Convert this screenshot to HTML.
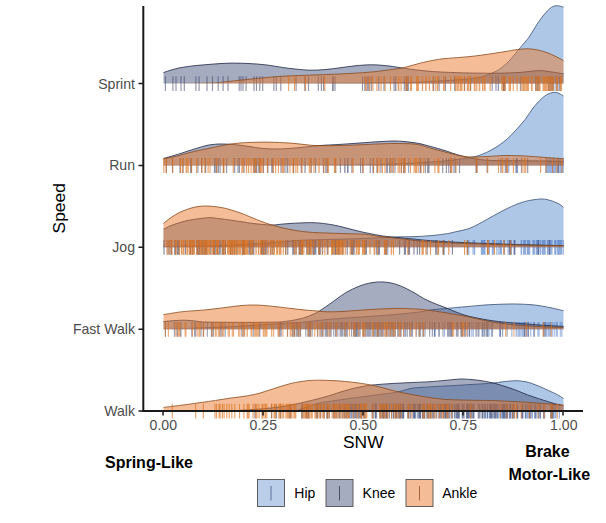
<!DOCTYPE html>
<html><head><meta charset="utf-8"><style>
html,body{margin:0;padding:0;background:#fff;}
body{width:606px;height:523px;overflow:hidden;font-family:"Liberation Sans",sans-serif;}
svg{display:block;}
text{font-family:"Liberation Sans",sans-serif;}
.tk{font-size:14.1px;fill:#4d4d4d;}
.ti{font-size:17.4px;fill:#000;}
.bd{font-size:16px;font-weight:bold;fill:#000;}
.lg{font-size:14px;fill:#000;}
</style></head><body>
<svg width="606" height="523" viewBox="0 0 606 523">
<rect width="606" height="523" fill="#fff"/>
<defs><clipPath id="cSt"><rect x="0" y="0" width="606" height="82.69999999999999"/></clipPath><clipPath id="cRn"><rect x="0" y="0" width="606" height="164.5"/></clipPath><clipPath id="cJg"><rect x="0" y="0" width="606" height="246.4"/></clipPath><clipPath id="cFk"><rect x="0" y="0" width="606" height="328.3"/></clipPath><clipPath id="cWk"><rect x="0" y="0" width="606" height="410.1"/></clipPath></defs><path d="M163.5,83.6C186.2,83.6 260.6,83.6 300.0,83.4C339.4,83.2 376.7,83.0 400.0,82.6C423.3,82.2 430.0,81.5 440.0,81.0C450.0,80.5 455.0,80.0 460.0,79.6C465.0,79.2 466.4,79.2 470.0,78.8C473.6,78.4 477.9,77.9 481.5,77.0C485.1,76.1 488.7,74.5 491.5,73.3C494.3,72.1 496.1,71.4 498.4,69.9C500.7,68.5 503.0,66.6 505.3,64.6C507.6,62.6 509.8,60.3 512.0,57.8C514.2,55.3 516.9,51.6 518.6,49.6C520.3,47.6 520.4,47.6 522.0,45.6C523.6,43.6 526.3,40.9 528.5,37.9C530.7,34.9 532.8,30.9 535.0,27.5C537.2,24.1 539.7,20.2 542.0,17.2C544.3,14.2 547.0,11.2 548.8,9.5C550.5,7.8 551.4,7.4 552.5,6.8C553.6,6.2 554.5,5.8 555.7,5.7C556.9,5.6 558.2,5.8 559.5,6.0C560.8,6.2 562.8,7.0 563.5,7.2L563.5,83.6L163.5,83.6Z" fill="#4d82c8" fill-opacity="0.45"/>
<path d="M163.5,83.6C186.2,83.6 260.6,83.6 300.0,83.4C339.4,83.2 376.7,83.0 400.0,82.6C423.3,82.2 430.0,81.5 440.0,81.0C450.0,80.5 455.0,80.0 460.0,79.6C465.0,79.2 466.4,79.2 470.0,78.8C473.6,78.4 477.9,77.9 481.5,77.0C485.1,76.1 488.7,74.5 491.5,73.3C494.3,72.1 496.1,71.4 498.4,69.9C500.7,68.5 503.0,66.6 505.3,64.6C507.6,62.6 509.8,60.3 512.0,57.8C514.2,55.3 516.9,51.6 518.6,49.6C520.3,47.6 520.4,47.6 522.0,45.6C523.6,43.6 526.3,40.9 528.5,37.9C530.7,34.9 532.8,30.9 535.0,27.5C537.2,24.1 539.7,20.2 542.0,17.2C544.3,14.2 547.0,11.2 548.8,9.5C550.5,7.8 551.4,7.4 552.5,6.8C553.6,6.2 554.5,5.8 555.7,5.7C556.9,5.6 558.2,5.8 559.5,6.0C560.8,6.2 562.8,7.0 563.5,7.2" fill="none" stroke="#3a4f70" stroke-width="0.8" clip-path="url(#cSt)"/>
<path d="M503.4,76.3v14.8M504.4,76.3v14.8M520.4,76.3v14.8M520.8,76.3v14.8M548.6,76.3v14.8M548.9,76.3v14.8M549.1,76.3v14.8M550.3,76.3v14.8M553.0,76.3v14.8M553.7,76.3v14.8M555.9,76.3v14.8M556.3,76.3v14.8M558.1,76.3v14.8" stroke="#3f6fc0" stroke-width="1.15" stroke-opacity="0.55" fill="none"/>
<path d="M163.5,72.6C164.9,72.1 169.2,70.6 172.0,69.8C174.8,69.0 176.7,68.4 180.0,67.8C183.3,67.2 187.9,66.5 192.0,66.0C196.1,65.5 199.8,65.2 204.5,64.8C209.2,64.4 215.1,63.9 220.0,63.6C224.9,63.3 229.0,63.1 234.0,63.1C239.0,63.1 244.7,63.3 250.0,63.6C255.3,63.9 260.4,64.2 266.0,64.9C271.6,65.6 278.9,66.9 283.7,67.6C288.5,68.3 290.6,68.6 295.0,69.0C299.4,69.4 305.0,70.1 310.0,70.2C315.0,70.3 320.0,70.0 325.0,69.6C330.0,69.2 335.0,68.4 340.0,67.8C345.0,67.2 349.7,66.3 355.0,65.8C360.3,65.3 366.7,64.8 371.7,64.8C376.7,64.8 381.1,65.2 385.0,65.6C388.9,65.9 392.1,66.5 395.0,66.9C397.9,67.3 399.4,67.5 402.7,68.0C406.0,68.5 410.4,69.2 415.0,69.8C419.6,70.3 425.0,70.9 430.0,71.3C435.0,71.7 438.3,71.9 445.0,72.2C451.7,72.5 460.8,72.8 470.0,73.0C479.2,73.2 491.7,73.3 500.0,73.2C508.3,73.1 513.5,72.8 520.0,72.4C526.5,72.0 533.7,70.7 539.0,70.6C544.3,70.5 547.9,71.5 552.0,72.0C556.1,72.5 561.6,73.5 563.5,73.8L563.5,83.6L163.5,83.6Z" fill="#3c4a76" fill-opacity="0.46"/>
<path d="M163.5,72.6C164.9,72.1 169.2,70.6 172.0,69.8C174.8,69.0 176.7,68.4 180.0,67.8C183.3,67.2 187.9,66.5 192.0,66.0C196.1,65.5 199.8,65.2 204.5,64.8C209.2,64.4 215.1,63.9 220.0,63.6C224.9,63.3 229.0,63.1 234.0,63.1C239.0,63.1 244.7,63.3 250.0,63.6C255.3,63.9 260.4,64.2 266.0,64.9C271.6,65.6 278.9,66.9 283.7,67.6C288.5,68.3 290.6,68.6 295.0,69.0C299.4,69.4 305.0,70.1 310.0,70.2C315.0,70.3 320.0,70.0 325.0,69.6C330.0,69.2 335.0,68.4 340.0,67.8C345.0,67.2 349.7,66.3 355.0,65.8C360.3,65.3 366.7,64.8 371.7,64.8C376.7,64.8 381.1,65.2 385.0,65.6C388.9,65.9 392.1,66.5 395.0,66.9C397.9,67.3 399.4,67.5 402.7,68.0C406.0,68.5 410.4,69.2 415.0,69.8C419.6,70.3 425.0,70.9 430.0,71.3C435.0,71.7 438.3,71.9 445.0,72.2C451.7,72.5 460.8,72.8 470.0,73.0C479.2,73.2 491.7,73.3 500.0,73.2C508.3,73.1 513.5,72.8 520.0,72.4C526.5,72.0 533.7,70.7 539.0,70.6C544.3,70.5 547.9,71.5 552.0,72.0C556.1,72.5 561.6,73.5 563.5,73.8" fill="none" stroke="#1f2744" stroke-width="0.8" clip-path="url(#cSt)"/>
<path d="M165.4,76.3v14.8M172.9,76.3v14.8M176.0,76.3v14.8M181.0,76.3v14.8M184.3,76.3v14.8M195.9,76.3v14.8M199.1,76.3v14.8M207.0,76.3v14.8M212.5,76.3v14.8M218.2,76.3v14.8M223.1,76.3v14.8M228.0,76.3v14.8M239.2,76.3v14.8M241.0,76.3v14.8M243.0,76.3v14.8M246.1,76.3v14.8M254.0,76.3v14.8M256.5,76.3v14.8M259.8,76.3v14.8M262.7,76.3v14.8M273.9,76.3v14.8M276.3,76.3v14.8M280.8,76.3v14.8M296.1,76.3v14.8M304.8,76.3v14.8M308.5,76.3v14.8M318.3,76.3v14.8M321.4,76.3v14.8M323.6,76.3v14.8M332.5,76.3v14.8M333.3,76.3v14.8M335.0,76.3v14.8M362.5,76.3v14.8M364.8,76.3v14.8M364.9,76.3v14.8M367.3,76.3v14.8M368.7,76.3v14.8M371.3,76.3v14.8M378.8,76.3v14.8M384.0,76.3v14.8M394.0,76.3v14.8M395.5,76.3v14.8M395.9,76.3v14.8M404.3,76.3v14.8M406.1,76.3v14.8M407.1,76.3v14.8M408.3,76.3v14.8M433.6,76.3v14.8M439.1,76.3v14.8M445.4,76.3v14.8M454.7,76.3v14.8M464.6,76.3v14.8M470.6,76.3v14.8M492.1,76.3v14.8M496.0,76.3v14.8M498.3,76.3v14.8M498.4,76.3v14.8M503.4,76.3v14.8M504.0,76.3v14.8M535.7,76.3v14.8M537.3,76.3v14.8M538.8,76.3v14.8M551.9,76.3v14.8M559.7,76.3v14.8M559.9,76.3v14.8" stroke="#383e66" stroke-width="1.15" stroke-opacity="0.55" fill="none"/>
<path d="M163.5,83.4C169.6,83.4 190.9,83.3 200.0,83.2C209.1,83.1 211.3,83.1 218.0,82.6C224.7,82.1 233.0,80.9 240.0,80.2C247.0,79.5 253.3,78.8 260.0,78.2C266.7,77.6 272.5,76.9 280.0,76.4C287.5,75.9 295.0,75.7 305.0,75.3C315.0,74.9 329.3,74.5 340.0,74.0C350.7,73.5 361.5,72.8 369.0,72.2C376.5,71.6 379.5,71.1 385.0,70.4C390.5,69.7 397.0,69.0 402.0,68.0C407.0,67.0 411.4,65.5 415.0,64.6C418.6,63.6 420.4,63.1 423.7,62.3C427.0,61.5 431.4,60.6 435.0,60.0C438.6,59.4 440.8,59.0 445.0,58.6C449.2,58.2 455.0,57.8 460.0,57.4C465.0,57.0 470.1,56.6 475.0,56.0C479.9,55.4 484.5,54.7 489.5,54.0C494.5,53.3 500.4,52.3 505.0,51.6C509.6,50.9 513.3,50.1 517.0,49.6C520.7,49.1 523.7,48.8 527.0,48.8C530.3,48.8 533.7,49.2 537.0,49.8C540.3,50.4 543.8,51.5 547.0,52.6C550.2,53.7 553.2,55.3 556.0,56.6C558.8,57.9 562.2,59.9 563.5,60.6L563.5,83.6L163.5,83.6Z" fill="#ea7c2f" fill-opacity="0.5"/>
<path d="M163.5,83.4C169.6,83.4 190.9,83.3 200.0,83.2C209.1,83.1 211.3,83.1 218.0,82.6C224.7,82.1 233.0,80.9 240.0,80.2C247.0,79.5 253.3,78.8 260.0,78.2C266.7,77.6 272.5,76.9 280.0,76.4C287.5,75.9 295.0,75.7 305.0,75.3C315.0,74.9 329.3,74.5 340.0,74.0C350.7,73.5 361.5,72.8 369.0,72.2C376.5,71.6 379.5,71.1 385.0,70.4C390.5,69.7 397.0,69.0 402.0,68.0C407.0,67.0 411.4,65.5 415.0,64.6C418.6,63.6 420.4,63.1 423.7,62.3C427.0,61.5 431.4,60.6 435.0,60.0C438.6,59.4 440.8,59.0 445.0,58.6C449.2,58.2 455.0,57.8 460.0,57.4C465.0,57.0 470.1,56.6 475.0,56.0C479.9,55.4 484.5,54.7 489.5,54.0C494.5,53.3 500.4,52.3 505.0,51.6C509.6,50.9 513.3,50.1 517.0,49.6C520.7,49.1 523.7,48.8 527.0,48.8C530.3,48.8 533.7,49.2 537.0,49.8C540.3,50.4 543.8,51.5 547.0,52.6C550.2,53.7 553.2,55.3 556.0,56.6C558.8,57.9 562.2,59.9 563.5,60.6" fill="none" stroke="#8a4a1c" stroke-width="0.8" clip-path="url(#cSt)"/>
<path d="M288.7,76.3v14.8M294.5,76.3v14.8M305.5,76.3v14.8M324.8,76.3v14.8M365.8,76.3v14.8M366.2,76.3v14.8M369.6,76.3v14.8M372.9,76.3v14.8M377.0,76.3v14.8M381.0,76.3v14.8M385.1,76.3v14.8M390.5,76.3v14.8M398.2,76.3v14.8M398.8,76.3v14.8M401.1,76.3v14.8M405.9,76.3v14.8M407.1,76.3v14.8M410.6,76.3v14.8M411.5,76.3v14.8M416.6,76.3v14.8M417.3,76.3v14.8M418.5,76.3v14.8M422.4,76.3v14.8M422.6,76.3v14.8M425.8,76.3v14.8M426.1,76.3v14.8M429.4,76.3v14.8M432.9,76.3v14.8M435.8,76.3v14.8M437.6,76.3v14.8M437.8,76.3v14.8M443.6,76.3v14.8M444.1,76.3v14.8M450.7,76.3v14.8M455.6,76.3v14.8M457.0,76.3v14.8M458.3,76.3v14.8M460.0,76.3v14.8M460.5,76.3v14.8M461.3,76.3v14.8M462.0,76.3v14.8M464.3,76.3v14.8M467.4,76.3v14.8M468.1,76.3v14.8M468.8,76.3v14.8M470.5,76.3v14.8M474.3,76.3v14.8M474.8,76.3v14.8M475.0,76.3v14.8M476.7,76.3v14.8M476.8,76.3v14.8M479.3,76.3v14.8M479.7,76.3v14.8M482.6,76.3v14.8M484.2,76.3v14.8M485.1,76.3v14.8M490.1,76.3v14.8M501.8,76.3v14.8M503.2,76.3v14.8M504.0,76.3v14.8M505.4,76.3v14.8M509.2,76.3v14.8M509.5,76.3v14.8M510.5,76.3v14.8M513.3,76.3v14.8M517.1,76.3v14.8M521.0,76.3v14.8M522.8,76.3v14.8M523.6,76.3v14.8M523.7,76.3v14.8M524.4,76.3v14.8M524.6,76.3v14.8M525.2,76.3v14.8M526.6,76.3v14.8M527.0,76.3v14.8M527.0,76.3v14.8M527.5,76.3v14.8M528.1,76.3v14.8M528.4,76.3v14.8M531.5,76.3v14.8M532.1,76.3v14.8M536.0,76.3v14.8M537.2,76.3v14.8M538.9,76.3v14.8M540.0,76.3v14.8M543.1,76.3v14.8M543.9,76.3v14.8M544.7,76.3v14.8M545.7,76.3v14.8M545.9,76.3v14.8M546.8,76.3v14.8M547.3,76.3v14.8M548.6,76.3v14.8M549.7,76.3v14.8M550.8,76.3v14.8M551.3,76.3v14.8M551.9,76.3v14.8M552.4,76.3v14.8M553.7,76.3v14.8M556.6,76.3v14.8M557.6,76.3v14.8M560.4,76.3v14.8M560.4,76.3v14.8M561.5,76.3v14.8" stroke="#db701c" stroke-width="1.15" stroke-opacity="0.66" fill="none"/>
<path d="M163.5,165.4C186.2,165.4 263.9,165.4 300.0,165.2C336.1,165.0 358.3,164.9 380.0,164.4C401.7,163.9 417.6,162.8 430.0,162.0C442.4,161.2 447.3,160.8 454.7,159.9C462.1,159.0 469.8,157.6 474.5,156.6C479.2,155.6 480.4,154.9 483.0,153.9C485.6,152.9 487.4,152.1 490.0,150.7C492.6,149.3 495.7,147.6 498.6,145.6C501.5,143.6 504.3,141.5 507.2,138.9C510.1,136.3 512.8,133.5 515.8,130.2C518.8,126.9 522.4,123.0 525.3,119.3C528.2,115.6 530.3,111.5 533.0,108.1C535.7,104.6 539.0,101.0 541.6,98.6C544.2,96.2 546.4,94.8 548.5,93.8C550.6,92.8 552.8,92.5 554.5,92.4C556.2,92.3 557.5,92.8 559.0,93.4C560.5,94.0 562.8,95.6 563.5,96.0L563.5,165.4L163.5,165.4Z" fill="#4d82c8" fill-opacity="0.45"/>
<path d="M163.5,165.4C186.2,165.4 263.9,165.4 300.0,165.2C336.1,165.0 358.3,164.9 380.0,164.4C401.7,163.9 417.6,162.8 430.0,162.0C442.4,161.2 447.3,160.8 454.7,159.9C462.1,159.0 469.8,157.6 474.5,156.6C479.2,155.6 480.4,154.9 483.0,153.9C485.6,152.9 487.4,152.1 490.0,150.7C492.6,149.3 495.7,147.6 498.6,145.6C501.5,143.6 504.3,141.5 507.2,138.9C510.1,136.3 512.8,133.5 515.8,130.2C518.8,126.9 522.4,123.0 525.3,119.3C528.2,115.6 530.3,111.5 533.0,108.1C535.7,104.6 539.0,101.0 541.6,98.6C544.2,96.2 546.4,94.8 548.5,93.8C550.6,92.8 552.8,92.5 554.5,92.4C556.2,92.3 557.5,92.8 559.0,93.4C560.5,94.0 562.8,95.6 563.5,96.0" fill="none" stroke="#3a4f70" stroke-width="0.8" clip-path="url(#cRn)"/>
<path d="M347.7,158.1v14.8M408.5,158.1v14.8M420.0,158.1v14.8M453.9,158.1v14.8M505.2,158.1v14.8M505.9,158.1v14.8M506.7,158.1v14.8M508.7,158.1v14.8M515.8,158.1v14.8M517.5,158.1v14.8M521.4,158.1v14.8M546.0,158.1v14.8M546.3,158.1v14.8M546.3,158.1v14.8M547.0,158.1v14.8M547.2,158.1v14.8M547.5,158.1v14.8M547.9,158.1v14.8M548.3,158.1v14.8M548.8,158.1v14.8M548.9,158.1v14.8M549.1,158.1v14.8M549.3,158.1v14.8M549.5,158.1v14.8M550.2,158.1v14.8M550.3,158.1v14.8M550.4,158.1v14.8M550.5,158.1v14.8M550.6,158.1v14.8M550.9,158.1v14.8M551.1,158.1v14.8M551.4,158.1v14.8M552.0,158.1v14.8M552.1,158.1v14.8M552.1,158.1v14.8M552.2,158.1v14.8M552.7,158.1v14.8M552.9,158.1v14.8M553.1,158.1v14.8M553.6,158.1v14.8M553.8,158.1v14.8M554.0,158.1v14.8M554.3,158.1v14.8M554.3,158.1v14.8M554.7,158.1v14.8M554.8,158.1v14.8M554.8,158.1v14.8M554.9,158.1v14.8M555.6,158.1v14.8M555.6,158.1v14.8M557.1,158.1v14.8M557.7,158.1v14.8M558.0,158.1v14.8M558.4,158.1v14.8M558.8,158.1v14.8M559.0,158.1v14.8M560.3,158.1v14.8M560.6,158.1v14.8M560.6,158.1v14.8M560.7,158.1v14.8M561.2,158.1v14.8M562.4,158.1v14.8M562.8,158.1v14.8M562.9,158.1v14.8M563.0,158.1v14.8M563.2,158.1v14.8" stroke="#3f6fc0" stroke-width="1.15" stroke-opacity="0.54" fill="none"/>
<path d="M163.5,158.4C165.4,157.9 170.6,156.5 175.0,155.2C179.4,153.9 185.1,151.9 190.0,150.4C194.9,148.9 200.8,147.0 204.5,146.0C208.2,145.0 209.6,144.9 212.0,144.6C214.4,144.3 216.3,144.1 219.0,144.0C221.7,143.9 225.1,144.1 228.0,144.2C230.9,144.3 233.0,144.4 236.7,144.8C240.4,145.2 245.9,146.0 250.0,146.6C254.1,147.2 257.2,147.9 261.4,148.3C265.6,148.7 270.2,149.0 275.0,149.0C279.8,149.0 285.0,148.7 290.0,148.4C295.0,148.1 300.0,147.5 305.0,147.0C310.0,146.5 314.2,145.9 320.0,145.5C325.8,145.1 333.3,144.8 340.0,144.4C346.7,144.0 353.3,143.5 360.0,143.0C366.7,142.5 374.3,141.9 380.0,141.6C385.7,141.3 389.8,141.0 394.0,141.0C398.2,141.0 400.8,141.2 405.0,141.6C409.2,142.0 414.8,142.7 419.0,143.5C423.2,144.3 425.7,145.1 430.0,146.3C434.3,147.5 440.8,149.3 445.0,150.6C449.2,151.9 451.7,153.0 455.0,154.0C458.3,155.0 460.8,155.8 464.6,156.7C468.4,157.6 473.8,158.6 478.0,159.2C482.2,159.8 483.0,160.1 490.0,160.4C497.0,160.7 510.8,160.7 520.0,160.8C529.2,160.9 537.8,160.9 545.0,161.0C552.2,161.1 560.4,161.3 563.5,161.4L563.5,165.4L163.5,165.4Z" fill="#3c4a76" fill-opacity="0.46"/>
<path d="M163.5,158.4C165.4,157.9 170.6,156.5 175.0,155.2C179.4,153.9 185.1,151.9 190.0,150.4C194.9,148.9 200.8,147.0 204.5,146.0C208.2,145.0 209.6,144.9 212.0,144.6C214.4,144.3 216.3,144.1 219.0,144.0C221.7,143.9 225.1,144.1 228.0,144.2C230.9,144.3 233.0,144.4 236.7,144.8C240.4,145.2 245.9,146.0 250.0,146.6C254.1,147.2 257.2,147.9 261.4,148.3C265.6,148.7 270.2,149.0 275.0,149.0C279.8,149.0 285.0,148.7 290.0,148.4C295.0,148.1 300.0,147.5 305.0,147.0C310.0,146.5 314.2,145.9 320.0,145.5C325.8,145.1 333.3,144.8 340.0,144.4C346.7,144.0 353.3,143.5 360.0,143.0C366.7,142.5 374.3,141.9 380.0,141.6C385.7,141.3 389.8,141.0 394.0,141.0C398.2,141.0 400.8,141.2 405.0,141.6C409.2,142.0 414.8,142.7 419.0,143.5C423.2,144.3 425.7,145.1 430.0,146.3C434.3,147.5 440.8,149.3 445.0,150.6C449.2,151.9 451.7,153.0 455.0,154.0C458.3,155.0 460.8,155.8 464.6,156.7C468.4,157.6 473.8,158.6 478.0,159.2C482.2,159.8 483.0,160.1 490.0,160.4C497.0,160.7 510.8,160.7 520.0,160.8C529.2,160.9 537.8,160.9 545.0,161.0C552.2,161.1 560.4,161.3 563.5,161.4" fill="none" stroke="#1f2744" stroke-width="0.8" clip-path="url(#cRn)"/>
<path d="M166.4,158.1v14.8M172.5,158.1v14.8M180.0,158.1v14.8M183.1,158.1v14.8M190.6,158.1v14.8M191.4,158.1v14.8M191.5,158.1v14.8M197.9,158.1v14.8M201.6,158.1v14.8M205.6,158.1v14.8M205.7,158.1v14.8M214.4,158.1v14.8M215.0,158.1v14.8M216.3,158.1v14.8M216.7,158.1v14.8M218.4,158.1v14.8M220.1,158.1v14.8M223.4,158.1v14.8M226.6,158.1v14.8M234.7,158.1v14.8M238.0,158.1v14.8M239.4,158.1v14.8M244.0,158.1v14.8M254.0,158.1v14.8M254.9,158.1v14.8M256.3,158.1v14.8M256.8,158.1v14.8M258.8,158.1v14.8M258.9,158.1v14.8M259.6,158.1v14.8M259.8,158.1v14.8M263.5,158.1v14.8M267.7,158.1v14.8M267.8,158.1v14.8M271.8,158.1v14.8M272.1,158.1v14.8M272.8,158.1v14.8M281.0,158.1v14.8M285.0,158.1v14.8M287.1,158.1v14.8M287.7,158.1v14.8M293.6,158.1v14.8M301.2,158.1v14.8M305.0,158.1v14.8M305.1,158.1v14.8M311.2,158.1v14.8M315.6,158.1v14.8M323.4,158.1v14.8M325.9,158.1v14.8M327.2,158.1v14.8M335.2,158.1v14.8M340.4,158.1v14.8M344.7,158.1v14.8M344.8,158.1v14.8M345.0,158.1v14.8M347.8,158.1v14.8M351.9,158.1v14.8M360.6,158.1v14.8M362.7,158.1v14.8M370.3,158.1v14.8M372.9,158.1v14.8M373.3,158.1v14.8M377.0,158.1v14.8M377.1,158.1v14.8M380.9,158.1v14.8M386.7,158.1v14.8M387.4,158.1v14.8M389.6,158.1v14.8M389.8,158.1v14.8M392.1,158.1v14.8M395.0,158.1v14.8M401.5,158.1v14.8M403.8,158.1v14.8M404.4,158.1v14.8M420.6,158.1v14.8M420.8,158.1v14.8M425.3,158.1v14.8M427.6,158.1v14.8M427.8,158.1v14.8M427.9,158.1v14.8M427.9,158.1v14.8M429.0,158.1v14.8M442.7,158.1v14.8M446.4,158.1v14.8M448.8,158.1v14.8M450.7,158.1v14.8M455.2,158.1v14.8M459.5,158.1v14.8M476.1,158.1v14.8M477.0,158.1v14.8M487.1,158.1v14.8M500.9,158.1v14.8M516.7,158.1v14.8M527.7,158.1v14.8M558.2,158.1v14.8" stroke="#383e66" stroke-width="1.15" stroke-opacity="0.54" fill="none"/>
<path d="M163.5,159.0C165.9,158.5 173.2,157.0 178.0,155.8C182.8,154.6 187.5,153.1 192.0,152.0C196.5,150.9 200.8,150.1 205.0,149.2C209.2,148.3 213.0,147.5 217.0,146.7C221.0,145.9 225.0,144.9 229.0,144.3C233.0,143.7 236.8,143.2 241.0,142.9C245.2,142.6 250.2,142.4 254.0,142.3C257.8,142.2 260.7,142.1 264.0,142.1C267.3,142.1 270.5,142.2 274.0,142.3C277.5,142.4 281.5,142.6 285.0,142.8C288.5,143.0 291.7,143.2 295.0,143.5C298.3,143.8 301.7,144.3 305.0,144.6C308.3,144.9 310.0,145.3 315.0,145.5C320.0,145.7 327.5,145.7 335.0,145.6C342.5,145.5 352.5,145.1 360.0,144.8C367.5,144.5 374.3,144.1 380.0,143.9C385.7,143.7 388.8,143.5 394.0,143.5C399.2,143.5 406.7,143.6 411.0,143.8C415.3,144.1 416.8,144.3 420.0,145.0C423.2,145.7 425.8,146.8 430.0,148.0C434.2,149.2 440.3,150.8 445.0,152.0C449.7,153.2 453.8,154.5 458.0,155.3C462.2,156.1 465.5,156.8 470.0,157.0C474.5,157.2 480.0,156.8 485.0,156.6C490.0,156.4 495.6,155.9 500.0,155.7C504.4,155.5 507.5,155.4 511.7,155.5C515.9,155.6 519.5,155.7 525.0,156.0C530.5,156.3 538.6,157.0 545.0,157.4C551.4,157.8 560.4,158.5 563.5,158.7L563.5,165.4L163.5,165.4Z" fill="#ea7c2f" fill-opacity="0.5"/>
<path d="M163.5,159.0C165.9,158.5 173.2,157.0 178.0,155.8C182.8,154.6 187.5,153.1 192.0,152.0C196.5,150.9 200.8,150.1 205.0,149.2C209.2,148.3 213.0,147.5 217.0,146.7C221.0,145.9 225.0,144.9 229.0,144.3C233.0,143.7 236.8,143.2 241.0,142.9C245.2,142.6 250.2,142.4 254.0,142.3C257.8,142.2 260.7,142.1 264.0,142.1C267.3,142.1 270.5,142.2 274.0,142.3C277.5,142.4 281.5,142.6 285.0,142.8C288.5,143.0 291.7,143.2 295.0,143.5C298.3,143.8 301.7,144.3 305.0,144.6C308.3,144.9 310.0,145.3 315.0,145.5C320.0,145.7 327.5,145.7 335.0,145.6C342.5,145.5 352.5,145.1 360.0,144.8C367.5,144.5 374.3,144.1 380.0,143.9C385.7,143.7 388.8,143.5 394.0,143.5C399.2,143.5 406.7,143.6 411.0,143.8C415.3,144.1 416.8,144.3 420.0,145.0C423.2,145.7 425.8,146.8 430.0,148.0C434.2,149.2 440.3,150.8 445.0,152.0C449.7,153.2 453.8,154.5 458.0,155.3C462.2,156.1 465.5,156.8 470.0,157.0C474.5,157.2 480.0,156.8 485.0,156.6C490.0,156.4 495.6,155.9 500.0,155.7C504.4,155.5 507.5,155.4 511.7,155.5C515.9,155.6 519.5,155.7 525.0,156.0C530.5,156.3 538.6,157.0 545.0,157.4C551.4,157.8 560.4,158.5 563.5,158.7" fill="none" stroke="#8a4a1c" stroke-width="0.8" clip-path="url(#cRn)"/>
<path d="M163.8,158.1v14.8M166.1,158.1v14.8M172.7,158.1v14.8M180.5,158.1v14.8M180.7,158.1v14.8M182.6,158.1v14.8M186.2,158.1v14.8M186.8,158.1v14.8M188.2,158.1v14.8M191.5,158.1v14.8M196.5,158.1v14.8M202.0,158.1v14.8M202.0,158.1v14.8M204.8,158.1v14.8M208.1,158.1v14.8M210.0,158.1v14.8M216.7,158.1v14.8M223.4,158.1v14.8M224.0,158.1v14.8M233.3,158.1v14.8M241.9,158.1v14.8M243.1,158.1v14.8M246.4,158.1v14.8M246.6,158.1v14.8M248.5,158.1v14.8M248.7,158.1v14.8M251.1,158.1v14.8M253.3,158.1v14.8M255.1,158.1v14.8M255.9,158.1v14.8M259.6,158.1v14.8M260.1,158.1v14.8M260.2,158.1v14.8M260.5,158.1v14.8M261.2,158.1v14.8M261.3,158.1v14.8M262.8,158.1v14.8M262.9,158.1v14.8M267.5,158.1v14.8M267.5,158.1v14.8M273.1,158.1v14.8M273.3,158.1v14.8M275.6,158.1v14.8M278.4,158.1v14.8M282.2,158.1v14.8M282.7,158.1v14.8M283.1,158.1v14.8M283.6,158.1v14.8M290.0,158.1v14.8M292.9,158.1v14.8M293.4,158.1v14.8M295.9,158.1v14.8M297.7,158.1v14.8M301.9,158.1v14.8M302.1,158.1v14.8M309.3,158.1v14.8M309.3,158.1v14.8M310.8,158.1v14.8M314.0,158.1v14.8M319.0,158.1v14.8M319.1,158.1v14.8M324.0,158.1v14.8M327.7,158.1v14.8M327.8,158.1v14.8M328.1,158.1v14.8M328.5,158.1v14.8M334.5,158.1v14.8M335.9,158.1v14.8M353.0,158.1v14.8M353.2,158.1v14.8M363.2,158.1v14.8M373.6,158.1v14.8M377.4,158.1v14.8M379.0,158.1v14.8M382.4,158.1v14.8M385.0,158.1v14.8M390.7,158.1v14.8M390.9,158.1v14.8M393.5,158.1v14.8M398.1,158.1v14.8M399.7,158.1v14.8M401.4,158.1v14.8M403.7,158.1v14.8M405.3,158.1v14.8M410.3,158.1v14.8M410.4,158.1v14.8M414.1,158.1v14.8M415.5,158.1v14.8M416.6,158.1v14.8M418.2,158.1v14.8M420.8,158.1v14.8M423.6,158.1v14.8M434.9,158.1v14.8M437.9,158.1v14.8M438.9,158.1v14.8M450.8,158.1v14.8M451.9,158.1v14.8M456.0,158.1v14.8M476.4,158.1v14.8M476.8,158.1v14.8M487.7,158.1v14.8M498.5,158.1v14.8M502.1,158.1v14.8M502.8,158.1v14.8M506.1,158.1v14.8M507.4,158.1v14.8M513.4,158.1v14.8M522.1,158.1v14.8M524.2,158.1v14.8M525.7,158.1v14.8M540.6,158.1v14.8M545.9,158.1v14.8M552.6,158.1v14.8M556.8,158.1v14.8M562.0,158.1v14.8" stroke="#db701c" stroke-width="1.15" stroke-opacity="0.65" fill="none"/>
<path d="M163.5,246.6C172.9,246.4 203.9,246.1 220.0,245.6C236.1,245.1 247.5,244.4 260.0,243.6C272.5,242.8 283.3,241.3 295.0,240.6C306.7,239.9 319.2,239.7 330.0,239.4C340.8,239.1 349.3,239.0 360.0,238.6C370.7,238.2 384.8,237.3 394.0,237.0C403.2,236.7 409.0,236.8 415.0,236.6C421.0,236.4 425.0,236.1 430.0,235.7C435.0,235.3 440.9,234.6 445.0,234.0C449.1,233.4 450.5,233.0 454.7,232.0C458.9,231.0 464.7,230.2 470.0,228.2C475.3,226.1 481.0,222.6 486.5,219.7C492.0,216.8 497.5,213.3 503.0,210.6C508.5,207.8 514.8,204.9 519.5,203.2C524.2,201.5 527.4,200.9 531.0,200.2C534.6,199.5 538.3,199.1 541.0,199.0C543.7,198.9 545.1,199.2 547.0,199.6C548.9,200.0 550.5,200.5 552.5,201.2C554.5,201.9 557.3,203.0 559.1,204.0C560.9,205.0 562.8,206.8 563.5,207.3L563.5,247.3L163.5,247.3Z" fill="#4d82c8" fill-opacity="0.45"/>
<path d="M163.5,246.6C172.9,246.4 203.9,246.1 220.0,245.6C236.1,245.1 247.5,244.4 260.0,243.6C272.5,242.8 283.3,241.3 295.0,240.6C306.7,239.9 319.2,239.7 330.0,239.4C340.8,239.1 349.3,239.0 360.0,238.6C370.7,238.2 384.8,237.3 394.0,237.0C403.2,236.7 409.0,236.8 415.0,236.6C421.0,236.4 425.0,236.1 430.0,235.7C435.0,235.3 440.9,234.6 445.0,234.0C449.1,233.4 450.5,233.0 454.7,232.0C458.9,231.0 464.7,230.2 470.0,228.2C475.3,226.1 481.0,222.6 486.5,219.7C492.0,216.8 497.5,213.3 503.0,210.6C508.5,207.8 514.8,204.9 519.5,203.2C524.2,201.5 527.4,200.9 531.0,200.2C534.6,199.5 538.3,199.1 541.0,199.0C543.7,198.9 545.1,199.2 547.0,199.6C548.9,200.0 550.5,200.5 552.5,201.2C554.5,201.9 557.3,203.0 559.1,204.0C560.9,205.0 562.8,206.8 563.5,207.3" fill="none" stroke="#3a4f70" stroke-width="0.8" clip-path="url(#cJg)"/>
<path d="M319.5,240.0v14.8M322.7,240.0v14.8M335.3,240.0v14.8M386.4,240.0v14.8M387.8,240.0v14.8M444.1,240.0v14.8M468.8,240.0v14.8M473.1,240.0v14.8M474.6,240.0v14.8M481.4,240.0v14.8M482.3,240.0v14.8M483.4,240.0v14.8M484.0,240.0v14.8M485.0,240.0v14.8M487.5,240.0v14.8M487.6,240.0v14.8M489.3,240.0v14.8M492.4,240.0v14.8M492.7,240.0v14.8M493.3,240.0v14.8M496.9,240.0v14.8M498.9,240.0v14.8M500.4,240.0v14.8M500.8,240.0v14.8M501.4,240.0v14.8M508.1,240.0v14.8M510.0,240.0v14.8M510.0,240.0v14.8M510.5,240.0v14.8M511.3,240.0v14.8M514.0,240.0v14.8M514.5,240.0v14.8M521.2,240.0v14.8M521.6,240.0v14.8M523.7,240.0v14.8M524.8,240.0v14.8M524.9,240.0v14.8M525.3,240.0v14.8M527.2,240.0v14.8M527.9,240.0v14.8M528.0,240.0v14.8M528.9,240.0v14.8M529.4,240.0v14.8M529.6,240.0v14.8M529.7,240.0v14.8M533.0,240.0v14.8M533.0,240.0v14.8M534.1,240.0v14.8M534.3,240.0v14.8M534.3,240.0v14.8M536.2,240.0v14.8M536.5,240.0v14.8M536.8,240.0v14.8M537.8,240.0v14.8M538.3,240.0v14.8M538.4,240.0v14.8M538.7,240.0v14.8M539.0,240.0v14.8M540.6,240.0v14.8M542.4,240.0v14.8M543.1,240.0v14.8M544.3,240.0v14.8M544.4,240.0v14.8M544.4,240.0v14.8M545.1,240.0v14.8M547.4,240.0v14.8M548.2,240.0v14.8M548.2,240.0v14.8M549.8,240.0v14.8M550.6,240.0v14.8M551.9,240.0v14.8M554.8,240.0v14.8M555.9,240.0v14.8M557.7,240.0v14.8M558.5,240.0v14.8M559.3,240.0v14.8M559.7,240.0v14.8M560.3,240.0v14.8M561.5,240.0v14.8M563.2,240.0v14.8" stroke="#3f6fc0" stroke-width="1.15" stroke-opacity="0.60" fill="none"/>
<path d="M163.5,229.2C164.8,228.6 168.3,226.7 171.0,225.6C173.7,224.5 176.6,223.5 179.8,222.6C183.0,221.7 185.3,220.8 190.0,220.0C194.7,219.2 203.6,218.0 207.9,217.7C212.2,217.4 212.5,217.8 216.0,218.2C219.5,218.6 224.7,219.3 229.0,219.9C233.3,220.5 237.8,221.2 242.0,221.8C246.2,222.4 249.2,223.1 254.0,223.6C258.8,224.1 266.1,224.9 271.0,225.0C275.9,225.1 279.2,224.3 283.1,224.0C287.0,223.7 290.8,223.4 294.6,223.2C298.5,223.0 302.4,222.8 306.2,222.7C310.0,222.6 313.8,222.6 317.7,222.9C321.6,223.2 325.4,223.7 329.3,224.3C333.2,224.9 337.0,225.7 340.8,226.6C344.6,227.5 348.5,228.6 352.4,229.6C356.2,230.6 360.0,231.6 363.9,232.4C367.8,233.2 371.6,234.0 375.5,234.7C379.4,235.4 382.9,236.1 387.0,236.6C391.1,237.1 395.8,237.4 400.0,237.8C404.2,238.2 407.0,238.4 412.0,238.9C417.0,239.4 422.0,240.0 430.0,240.6C438.0,241.2 448.3,241.8 460.0,242.4C471.7,243.0 486.7,243.5 500.0,244.0C513.3,244.5 529.4,244.9 540.0,245.2C550.6,245.5 559.6,245.5 563.5,245.6L563.5,247.3L163.5,247.3Z" fill="#3c4a76" fill-opacity="0.46"/>
<path d="M163.5,229.2C164.8,228.6 168.3,226.7 171.0,225.6C173.7,224.5 176.6,223.5 179.8,222.6C183.0,221.7 185.3,220.8 190.0,220.0C194.7,219.2 203.6,218.0 207.9,217.7C212.2,217.4 212.5,217.8 216.0,218.2C219.5,218.6 224.7,219.3 229.0,219.9C233.3,220.5 237.8,221.2 242.0,221.8C246.2,222.4 249.2,223.1 254.0,223.6C258.8,224.1 266.1,224.9 271.0,225.0C275.9,225.1 279.2,224.3 283.1,224.0C287.0,223.7 290.8,223.4 294.6,223.2C298.5,223.0 302.4,222.8 306.2,222.7C310.0,222.6 313.8,222.6 317.7,222.9C321.6,223.2 325.4,223.7 329.3,224.3C333.2,224.9 337.0,225.7 340.8,226.6C344.6,227.5 348.5,228.6 352.4,229.6C356.2,230.6 360.0,231.6 363.9,232.4C367.8,233.2 371.6,234.0 375.5,234.7C379.4,235.4 382.9,236.1 387.0,236.6C391.1,237.1 395.8,237.4 400.0,237.8C404.2,238.2 407.0,238.4 412.0,238.9C417.0,239.4 422.0,240.0 430.0,240.6C438.0,241.2 448.3,241.8 460.0,242.4C471.7,243.0 486.7,243.5 500.0,244.0C513.3,244.5 529.4,244.9 540.0,245.2C550.6,245.5 559.6,245.5 563.5,245.6" fill="none" stroke="#1f2744" stroke-width="0.8" clip-path="url(#cJg)"/>
<path d="M164.0,240.0v14.8M168.1,240.0v14.8M170.0,240.0v14.8M171.6,240.0v14.8M174.7,240.0v14.8M174.9,240.0v14.8M175.3,240.0v14.8M175.3,240.0v14.8M177.4,240.0v14.8M178.5,240.0v14.8M178.8,240.0v14.8M185.4,240.0v14.8M190.1,240.0v14.8M190.6,240.0v14.8M192.8,240.0v14.8M196.9,240.0v14.8M198.0,240.0v14.8M198.1,240.0v14.8M198.3,240.0v14.8M199.5,240.0v14.8M199.8,240.0v14.8M201.9,240.0v14.8M201.9,240.0v14.8M202.9,240.0v14.8M204.7,240.0v14.8M205.4,240.0v14.8M205.7,240.0v14.8M206.1,240.0v14.8M206.6,240.0v14.8M210.8,240.0v14.8M213.4,240.0v14.8M214.2,240.0v14.8M215.3,240.0v14.8M217.4,240.0v14.8M217.4,240.0v14.8M217.5,240.0v14.8M219.4,240.0v14.8M220.8,240.0v14.8M222.8,240.0v14.8M223.0,240.0v14.8M223.3,240.0v14.8M223.5,240.0v14.8M225.4,240.0v14.8M230.5,240.0v14.8M232.1,240.0v14.8M232.2,240.0v14.8M234.5,240.0v14.8M236.9,240.0v14.8M237.1,240.0v14.8M242.3,240.0v14.8M242.4,240.0v14.8M243.1,240.0v14.8M243.6,240.0v14.8M244.4,240.0v14.8M249.0,240.0v14.8M249.6,240.0v14.8M251.0,240.0v14.8M252.9,240.0v14.8M253.8,240.0v14.8M261.5,240.0v14.8M262.3,240.0v14.8M263.4,240.0v14.8M263.5,240.0v14.8M264.8,240.0v14.8M265.5,240.0v14.8M267.1,240.0v14.8M270.9,240.0v14.8M273.1,240.0v14.8M285.6,240.0v14.8M287.7,240.0v14.8M287.8,240.0v14.8M292.8,240.0v14.8M293.0,240.0v14.8M293.8,240.0v14.8M295.9,240.0v14.8M299.2,240.0v14.8M300.2,240.0v14.8M300.8,240.0v14.8M302.2,240.0v14.8M306.8,240.0v14.8M309.2,240.0v14.8M309.9,240.0v14.8M310.0,240.0v14.8M312.8,240.0v14.8M313.9,240.0v14.8M314.9,240.0v14.8M315.0,240.0v14.8M315.8,240.0v14.8M318.7,240.0v14.8M320.2,240.0v14.8M327.3,240.0v14.8M333.0,240.0v14.8M335.8,240.0v14.8M338.1,240.0v14.8M339.0,240.0v14.8M342.8,240.0v14.8M347.2,240.0v14.8M351.5,240.0v14.8M351.8,240.0v14.8M352.2,240.0v14.8M353.2,240.0v14.8M354.1,240.0v14.8M365.1,240.0v14.8M366.4,240.0v14.8M376.3,240.0v14.8M378.4,240.0v14.8M378.9,240.0v14.8M379.4,240.0v14.8M385.2,240.0v14.8M399.6,240.0v14.8M404.4,240.0v14.8M405.5,240.0v14.8M408.6,240.0v14.8M408.6,240.0v14.8M409.5,240.0v14.8M414.0,240.0v14.8M417.3,240.0v14.8M419.6,240.0v14.8M427.1,240.0v14.8M435.7,240.0v14.8M437.0,240.0v14.8M443.3,240.0v14.8M443.6,240.0v14.8M452.4,240.0v14.8M467.5,240.0v14.8M504.2,240.0v14.8M509.7,240.0v14.8M514.8,240.0v14.8M538.3,240.0v14.8M549.4,240.0v14.8" stroke="#383e66" stroke-width="1.15" stroke-opacity="0.60" fill="none"/>
<path d="M163.5,223.4C164.8,222.4 168.3,219.4 171.0,217.6C173.7,215.8 176.6,213.8 179.8,212.3C183.0,210.8 187.0,209.4 190.0,208.4C193.0,207.4 195.6,207.0 198.0,206.6C200.4,206.2 202.2,206.1 204.5,206.0C206.8,205.9 209.4,206.1 212.0,206.3C214.6,206.5 217.2,206.8 220.0,207.3C222.8,207.8 225.5,208.3 229.0,209.3C232.5,210.3 236.8,211.7 241.0,213.2C245.2,214.7 250.3,217.0 254.0,218.5C257.7,220.0 260.2,221.0 263.0,222.0C265.8,223.0 267.6,223.7 271.0,224.7C274.4,225.7 279.2,227.1 283.1,228.0C287.0,228.9 290.8,229.7 294.6,230.3C298.5,231.0 302.0,231.5 306.2,231.9C310.4,232.3 315.0,232.6 319.8,232.8C324.6,233.0 329.6,233.1 335.0,233.3C340.4,233.5 347.6,233.7 352.4,233.8C357.2,234.0 360.7,233.9 364.0,234.2C367.3,234.4 369.3,234.9 372.0,235.3C374.7,235.7 375.3,235.9 380.0,236.4C384.7,236.9 391.7,237.7 400.0,238.6C408.3,239.5 418.3,241.1 430.0,241.9C441.7,242.7 455.0,243.1 470.0,243.6C485.0,244.1 504.4,244.7 520.0,245.0C535.6,245.3 556.2,245.5 563.5,245.6L563.5,247.3L163.5,247.3Z" fill="#ea7c2f" fill-opacity="0.5"/>
<path d="M163.5,223.4C164.8,222.4 168.3,219.4 171.0,217.6C173.7,215.8 176.6,213.8 179.8,212.3C183.0,210.8 187.0,209.4 190.0,208.4C193.0,207.4 195.6,207.0 198.0,206.6C200.4,206.2 202.2,206.1 204.5,206.0C206.8,205.9 209.4,206.1 212.0,206.3C214.6,206.5 217.2,206.8 220.0,207.3C222.8,207.8 225.5,208.3 229.0,209.3C232.5,210.3 236.8,211.7 241.0,213.2C245.2,214.7 250.3,217.0 254.0,218.5C257.7,220.0 260.2,221.0 263.0,222.0C265.8,223.0 267.6,223.7 271.0,224.7C274.4,225.7 279.2,227.1 283.1,228.0C287.0,228.9 290.8,229.7 294.6,230.3C298.5,231.0 302.0,231.5 306.2,231.9C310.4,232.3 315.0,232.6 319.8,232.8C324.6,233.0 329.6,233.1 335.0,233.3C340.4,233.5 347.6,233.7 352.4,233.8C357.2,234.0 360.7,233.9 364.0,234.2C367.3,234.4 369.3,234.9 372.0,235.3C374.7,235.7 375.3,235.9 380.0,236.4C384.7,236.9 391.7,237.7 400.0,238.6C408.3,239.5 418.3,241.1 430.0,241.9C441.7,242.7 455.0,243.1 470.0,243.6C485.0,244.1 504.4,244.7 520.0,245.0C535.6,245.3 556.2,245.5 563.5,245.6" fill="none" stroke="#8a4a1c" stroke-width="0.8" clip-path="url(#cJg)"/>
<path d="M167.0,240.0v14.8M169.1,240.0v14.8M171.2,240.0v14.8M171.4,240.0v14.8M171.4,240.0v14.8M171.9,240.0v14.8M175.6,240.0v14.8M176.2,240.0v14.8M179.3,240.0v14.8M181.4,240.0v14.8M181.9,240.0v14.8M183.4,240.0v14.8M183.6,240.0v14.8M183.8,240.0v14.8M186.9,240.0v14.8M187.9,240.0v14.8M189.7,240.0v14.8M190.1,240.0v14.8M190.7,240.0v14.8M192.0,240.0v14.8M192.1,240.0v14.8M193.2,240.0v14.8M194.5,240.0v14.8M197.0,240.0v14.8M198.0,240.0v14.8M198.0,240.0v14.8M199.7,240.0v14.8M199.9,240.0v14.8M200.1,240.0v14.8M200.2,240.0v14.8M201.1,240.0v14.8M201.3,240.0v14.8M201.3,240.0v14.8M201.9,240.0v14.8M203.4,240.0v14.8M204.6,240.0v14.8M205.7,240.0v14.8M206.6,240.0v14.8M206.7,240.0v14.8M207.2,240.0v14.8M207.6,240.0v14.8M207.7,240.0v14.8M208.6,240.0v14.8M208.6,240.0v14.8M209.0,240.0v14.8M209.2,240.0v14.8M209.8,240.0v14.8M212.0,240.0v14.8M213.3,240.0v14.8M213.4,240.0v14.8M214.0,240.0v14.8M214.4,240.0v14.8M216.6,240.0v14.8M217.5,240.0v14.8M218.1,240.0v14.8M218.3,240.0v14.8M222.4,240.0v14.8M222.7,240.0v14.8M224.0,240.0v14.8M224.9,240.0v14.8M227.5,240.0v14.8M227.7,240.0v14.8M227.8,240.0v14.8M228.9,240.0v14.8M229.5,240.0v14.8M230.3,240.0v14.8M231.3,240.0v14.8M231.7,240.0v14.8M232.7,240.0v14.8M232.9,240.0v14.8M233.0,240.0v14.8M233.2,240.0v14.8M233.5,240.0v14.8M234.8,240.0v14.8M234.8,240.0v14.8M235.1,240.0v14.8M235.2,240.0v14.8M236.4,240.0v14.8M237.0,240.0v14.8M238.7,240.0v14.8M238.8,240.0v14.8M239.4,240.0v14.8M239.8,240.0v14.8M240.1,240.0v14.8M240.4,240.0v14.8M242.3,240.0v14.8M242.7,240.0v14.8M243.2,240.0v14.8M244.4,240.0v14.8M245.2,240.0v14.8M246.2,240.0v14.8M246.6,240.0v14.8M246.8,240.0v14.8M247.2,240.0v14.8M247.3,240.0v14.8M247.9,240.0v14.8M250.6,240.0v14.8M251.2,240.0v14.8M252.6,240.0v14.8M256.0,240.0v14.8M256.1,240.0v14.8M258.4,240.0v14.8M260.1,240.0v14.8M260.3,240.0v14.8M261.5,240.0v14.8M263.3,240.0v14.8M263.5,240.0v14.8M264.1,240.0v14.8M266.3,240.0v14.8M268.8,240.0v14.8M270.7,240.0v14.8M272.3,240.0v14.8M272.3,240.0v14.8M272.8,240.0v14.8M274.5,240.0v14.8M276.7,240.0v14.8M277.3,240.0v14.8M277.5,240.0v14.8M279.2,240.0v14.8M279.5,240.0v14.8M280.0,240.0v14.8M280.3,240.0v14.8M280.6,240.0v14.8M280.9,240.0v14.8M280.9,240.0v14.8M283.2,240.0v14.8M285.9,240.0v14.8M294.3,240.0v14.8M296.2,240.0v14.8M299.3,240.0v14.8M301.2,240.0v14.8M302.4,240.0v14.8M303.8,240.0v14.8M307.3,240.0v14.8M308.2,240.0v14.8M308.8,240.0v14.8M310.6,240.0v14.8M311.4,240.0v14.8M313.6,240.0v14.8M319.0,240.0v14.8M319.1,240.0v14.8M319.2,240.0v14.8M319.5,240.0v14.8M322.2,240.0v14.8M324.9,240.0v14.8M328.1,240.0v14.8M331.6,240.0v14.8M332.7,240.0v14.8M334.2,240.0v14.8M334.4,240.0v14.8M336.3,240.0v14.8M337.0,240.0v14.8M337.5,240.0v14.8M337.6,240.0v14.8M338.8,240.0v14.8M338.8,240.0v14.8M339.3,240.0v14.8M340.0,240.0v14.8M340.6,240.0v14.8M340.8,240.0v14.8M341.2,240.0v14.8M342.4,240.0v14.8M343.1,240.0v14.8M345.2,240.0v14.8M350.3,240.0v14.8M352.2,240.0v14.8M356.3,240.0v14.8M358.0,240.0v14.8M359.1,240.0v14.8M359.3,240.0v14.8M362.6,240.0v14.8M363.2,240.0v14.8M363.7,240.0v14.8M364.6,240.0v14.8M364.8,240.0v14.8M370.0,240.0v14.8M374.2,240.0v14.8M374.5,240.0v14.8M377.5,240.0v14.8M384.4,240.0v14.8M385.8,240.0v14.8M386.6,240.0v14.8M391.3,240.0v14.8M393.4,240.0v14.8M407.8,240.0v14.8M422.1,240.0v14.8M423.2,240.0v14.8M426.0,240.0v14.8M430.5,240.0v14.8M438.1,240.0v14.8M438.6,240.0v14.8M443.1,240.0v14.8M448.8,240.0v14.8M464.6,240.0v14.8M467.2,240.0v14.8M487.5,240.0v14.8M488.3,240.0v14.8M494.5,240.0v14.8M503.8,240.0v14.8M510.7,240.0v14.8" stroke="#db701c" stroke-width="1.15" stroke-opacity="0.72" fill="none"/>
<path d="M163.5,328.9C167.1,328.8 178.9,328.8 185.0,328.6C191.1,328.5 192.5,328.3 200.0,328.0C207.5,327.7 220.0,327.3 230.0,326.8C240.0,326.3 250.8,325.5 260.0,324.9C269.2,324.3 277.5,323.8 285.0,323.3C292.5,322.8 298.3,322.5 305.0,321.9C311.7,321.3 318.4,320.4 325.0,319.8C331.6,319.2 337.0,318.7 344.5,318.1C352.0,317.5 361.8,317.0 370.0,316.4C378.2,315.8 385.9,315.3 394.0,314.6C402.1,313.9 412.5,312.8 418.8,312.0C425.1,311.2 427.3,310.4 432.0,309.8C436.7,309.2 442.8,308.8 447.0,308.4C451.2,308.0 453.7,307.7 457.0,307.4C460.3,307.1 463.2,306.9 467.0,306.6C470.8,306.3 475.8,305.7 480.0,305.4C484.2,305.1 487.8,304.8 492.0,304.6C496.2,304.4 500.9,304.2 505.0,304.1C509.1,304.0 512.4,303.9 516.6,304.0C520.8,304.1 525.9,304.3 530.0,304.6C534.1,304.9 537.7,305.4 541.4,306.0C545.1,306.6 548.3,307.2 552.0,308.0C555.7,308.8 561.6,310.3 563.5,310.8L563.5,329.2L163.5,329.2Z" fill="#4d82c8" fill-opacity="0.45"/>
<path d="M163.5,328.9C167.1,328.8 178.9,328.8 185.0,328.6C191.1,328.5 192.5,328.3 200.0,328.0C207.5,327.7 220.0,327.3 230.0,326.8C240.0,326.3 250.8,325.5 260.0,324.9C269.2,324.3 277.5,323.8 285.0,323.3C292.5,322.8 298.3,322.5 305.0,321.9C311.7,321.3 318.4,320.4 325.0,319.8C331.6,319.2 337.0,318.7 344.5,318.1C352.0,317.5 361.8,317.0 370.0,316.4C378.2,315.8 385.9,315.3 394.0,314.6C402.1,313.9 412.5,312.8 418.8,312.0C425.1,311.2 427.3,310.4 432.0,309.8C436.7,309.2 442.8,308.8 447.0,308.4C451.2,308.0 453.7,307.7 457.0,307.4C460.3,307.1 463.2,306.9 467.0,306.6C470.8,306.3 475.8,305.7 480.0,305.4C484.2,305.1 487.8,304.8 492.0,304.6C496.2,304.4 500.9,304.2 505.0,304.1C509.1,304.0 512.4,303.9 516.6,304.0C520.8,304.1 525.9,304.3 530.0,304.6C534.1,304.9 537.7,305.4 541.4,306.0C545.1,306.6 548.3,307.2 552.0,308.0C555.7,308.8 561.6,310.3 563.5,310.8" fill="none" stroke="#3a4f70" stroke-width="0.8" clip-path="url(#cFk)"/>
<path d="M294.8,321.9v14.8M299.7,321.9v14.8M309.1,321.9v14.8M320.0,321.9v14.8M356.2,321.9v14.8M357.2,321.9v14.8M377.7,321.9v14.8M403.8,321.9v14.8M404.6,321.9v14.8M416.5,321.9v14.8M434.5,321.9v14.8M435.3,321.9v14.8M444.6,321.9v14.8M451.0,321.9v14.8M462.2,321.9v14.8M467.6,321.9v14.8M469.3,321.9v14.8M471.8,321.9v14.8M473.3,321.9v14.8M483.1,321.9v14.8M483.7,321.9v14.8M487.9,321.9v14.8M489.0,321.9v14.8M491.4,321.9v14.8M499.6,321.9v14.8M499.8,321.9v14.8M500.6,321.9v14.8M511.8,321.9v14.8M516.2,321.9v14.8M516.5,321.9v14.8M516.7,321.9v14.8M516.7,321.9v14.8M516.8,321.9v14.8M518.4,321.9v14.8M518.8,321.9v14.8M519.8,321.9v14.8M520.0,321.9v14.8M520.2,321.9v14.8M521.8,321.9v14.8M522.1,321.9v14.8M523.2,321.9v14.8M523.9,321.9v14.8M524.9,321.9v14.8M526.1,321.9v14.8M527.5,321.9v14.8M528.1,321.9v14.8M530.8,321.9v14.8M533.5,321.9v14.8M537.9,321.9v14.8M539.1,321.9v14.8M545.9,321.9v14.8M546.9,321.9v14.8M548.5,321.9v14.8M549.7,321.9v14.8M549.9,321.9v14.8M550.1,321.9v14.8M550.2,321.9v14.8M550.6,321.9v14.8M550.7,321.9v14.8M550.8,321.9v14.8M552.8,321.9v14.8M554.8,321.9v14.8M556.6,321.9v14.8M556.9,321.9v14.8M557.3,321.9v14.8M560.3,321.9v14.8M561.8,321.9v14.8M561.9,321.9v14.8" stroke="#3f6fc0" stroke-width="1.15" stroke-opacity="0.48" fill="none"/>
<path d="M163.5,321.5C165.4,321.4 171.5,320.8 175.0,320.6C178.5,320.4 181.4,320.1 184.7,320.2C188.0,320.3 191.7,320.7 195.0,321.0C198.3,321.3 198.7,321.8 204.5,322.0C210.3,322.2 220.8,322.2 230.0,322.3C239.2,322.4 251.8,322.4 260.0,322.3C268.2,322.2 274.5,322.2 279.0,322.0C283.5,321.8 284.6,321.5 287.0,321.2C289.4,320.9 291.4,320.6 293.6,320.2C295.8,319.8 298.1,319.2 300.0,318.8C301.9,318.4 303.0,318.2 305.0,317.5C307.0,316.8 309.5,315.9 312.0,314.8C314.5,313.7 316.5,312.9 319.8,310.8C323.1,308.7 327.9,305.3 332.0,302.4C336.1,299.5 340.7,295.9 344.5,293.5C348.3,291.1 351.7,289.5 355.0,288.0C358.3,286.5 361.3,285.3 364.3,284.4C367.3,283.5 370.1,282.9 373.0,282.5C375.9,282.1 378.8,281.8 381.6,281.9C384.4,281.9 387.3,282.3 390.0,282.8C392.7,283.3 395.3,284.0 398.0,285.0C400.7,286.0 403.6,287.2 406.4,288.6C409.2,290.0 412.1,291.6 415.0,293.2C417.9,294.8 420.9,297.0 423.7,298.5C426.5,300.0 429.3,301.2 432.0,302.4C434.7,303.6 437.4,304.6 440.0,305.6C442.6,306.6 444.5,307.3 447.3,308.4C450.1,309.5 453.7,311.2 457.0,312.4C460.3,313.6 463.2,314.8 467.0,315.8C470.8,316.8 475.8,317.8 480.0,318.6C484.2,319.4 487.8,320.1 492.0,320.7C496.2,321.3 500.9,321.8 505.0,322.2C509.1,322.6 510.8,322.7 516.6,323.2C522.4,323.7 532.2,324.5 540.0,325.0C547.8,325.5 559.6,326.2 563.5,326.4L563.5,329.2L163.5,329.2Z" fill="#3c4a76" fill-opacity="0.46"/>
<path d="M163.5,321.5C165.4,321.4 171.5,320.8 175.0,320.6C178.5,320.4 181.4,320.1 184.7,320.2C188.0,320.3 191.7,320.7 195.0,321.0C198.3,321.3 198.7,321.8 204.5,322.0C210.3,322.2 220.8,322.2 230.0,322.3C239.2,322.4 251.8,322.4 260.0,322.3C268.2,322.2 274.5,322.2 279.0,322.0C283.5,321.8 284.6,321.5 287.0,321.2C289.4,320.9 291.4,320.6 293.6,320.2C295.8,319.8 298.1,319.2 300.0,318.8C301.9,318.4 303.0,318.2 305.0,317.5C307.0,316.8 309.5,315.9 312.0,314.8C314.5,313.7 316.5,312.9 319.8,310.8C323.1,308.7 327.9,305.3 332.0,302.4C336.1,299.5 340.7,295.9 344.5,293.5C348.3,291.1 351.7,289.5 355.0,288.0C358.3,286.5 361.3,285.3 364.3,284.4C367.3,283.5 370.1,282.9 373.0,282.5C375.9,282.1 378.8,281.8 381.6,281.9C384.4,281.9 387.3,282.3 390.0,282.8C392.7,283.3 395.3,284.0 398.0,285.0C400.7,286.0 403.6,287.2 406.4,288.6C409.2,290.0 412.1,291.6 415.0,293.2C417.9,294.8 420.9,297.0 423.7,298.5C426.5,300.0 429.3,301.2 432.0,302.4C434.7,303.6 437.4,304.6 440.0,305.6C442.6,306.6 444.5,307.3 447.3,308.4C450.1,309.5 453.7,311.2 457.0,312.4C460.3,313.6 463.2,314.8 467.0,315.8C470.8,316.8 475.8,317.8 480.0,318.6C484.2,319.4 487.8,320.1 492.0,320.7C496.2,321.3 500.9,321.8 505.0,322.2C509.1,322.6 510.8,322.7 516.6,323.2C522.4,323.7 532.2,324.5 540.0,325.0C547.8,325.5 559.6,326.2 563.5,326.4" fill="none" stroke="#1f2744" stroke-width="0.8" clip-path="url(#cFk)"/>
<path d="M165.4,321.9v14.8M174.4,321.9v14.8M177.0,321.9v14.8M177.4,321.9v14.8M180.5,321.9v14.8M181.0,321.9v14.8M191.8,321.9v14.8M194.6,321.9v14.8M195.6,321.9v14.8M201.0,321.9v14.8M203.4,321.9v14.8M207.3,321.9v14.8M211.4,321.9v14.8M212.9,321.9v14.8M213.4,321.9v14.8M220.3,321.9v14.8M221.9,321.9v14.8M225.2,321.9v14.8M241.8,321.9v14.8M243.8,321.9v14.8M253.3,321.9v14.8M259.6,321.9v14.8M259.9,321.9v14.8M279.2,321.9v14.8M280.2,321.9v14.8M281.2,321.9v14.8M287.6,321.9v14.8M292.3,321.9v14.8M293.1,321.9v14.8M294.5,321.9v14.8M296.6,321.9v14.8M297.3,321.9v14.8M298.4,321.9v14.8M300.6,321.9v14.8M305.8,321.9v14.8M308.0,321.9v14.8M309.7,321.9v14.8M310.4,321.9v14.8M312.1,321.9v14.8M317.5,321.9v14.8M321.6,321.9v14.8M322.5,321.9v14.8M322.5,321.9v14.8M323.0,321.9v14.8M325.2,321.9v14.8M326.3,321.9v14.8M326.6,321.9v14.8M327.7,321.9v14.8M329.8,321.9v14.8M331.1,321.9v14.8M333.8,321.9v14.8M333.8,321.9v14.8M335.6,321.9v14.8M336.0,321.9v14.8M337.8,321.9v14.8M340.2,321.9v14.8M340.4,321.9v14.8M341.1,321.9v14.8M341.3,321.9v14.8M342.4,321.9v14.8M342.8,321.9v14.8M342.9,321.9v14.8M344.5,321.9v14.8M345.1,321.9v14.8M345.2,321.9v14.8M345.9,321.9v14.8M346.5,321.9v14.8M347.3,321.9v14.8M351.6,321.9v14.8M353.6,321.9v14.8M353.7,321.9v14.8M353.9,321.9v14.8M354.1,321.9v14.8M354.6,321.9v14.8M354.9,321.9v14.8M355.8,321.9v14.8M357.0,321.9v14.8M358.8,321.9v14.8M360.1,321.9v14.8M363.2,321.9v14.8M363.6,321.9v14.8M365.1,321.9v14.8M365.9,321.9v14.8M366.1,321.9v14.8M367.4,321.9v14.8M367.8,321.9v14.8M368.5,321.9v14.8M369.5,321.9v14.8M370.0,321.9v14.8M371.0,321.9v14.8M373.0,321.9v14.8M374.3,321.9v14.8M374.7,321.9v14.8M375.8,321.9v14.8M375.9,321.9v14.8M377.3,321.9v14.8M377.7,321.9v14.8M378.1,321.9v14.8M378.3,321.9v14.8M379.1,321.9v14.8M379.5,321.9v14.8M380.7,321.9v14.8M381.1,321.9v14.8M381.1,321.9v14.8M381.6,321.9v14.8M381.7,321.9v14.8M382.0,321.9v14.8M382.2,321.9v14.8M382.4,321.9v14.8M382.6,321.9v14.8M382.7,321.9v14.8M383.3,321.9v14.8M385.9,321.9v14.8M386.3,321.9v14.8M386.6,321.9v14.8M388.2,321.9v14.8M388.3,321.9v14.8M389.9,321.9v14.8M391.1,321.9v14.8M391.5,321.9v14.8M391.9,321.9v14.8M392.1,321.9v14.8M392.5,321.9v14.8M393.0,321.9v14.8M393.8,321.9v14.8M395.3,321.9v14.8M397.7,321.9v14.8M398.9,321.9v14.8M398.9,321.9v14.8M400.6,321.9v14.8M401.1,321.9v14.8M405.7,321.9v14.8M407.3,321.9v14.8M409.7,321.9v14.8M411.3,321.9v14.8M411.4,321.9v14.8M411.7,321.9v14.8M411.7,321.9v14.8M412.4,321.9v14.8M412.5,321.9v14.8M419.0,321.9v14.8M419.4,321.9v14.8M419.5,321.9v14.8M420.6,321.9v14.8M422.9,321.9v14.8M423.4,321.9v14.8M425.0,321.9v14.8M429.6,321.9v14.8M432.3,321.9v14.8M432.4,321.9v14.8M434.5,321.9v14.8M438.7,321.9v14.8M439.4,321.9v14.8M443.0,321.9v14.8M447.6,321.9v14.8M448.7,321.9v14.8M449.2,321.9v14.8M449.8,321.9v14.8M451.1,321.9v14.8M451.2,321.9v14.8M452.0,321.9v14.8M456.4,321.9v14.8M457.5,321.9v14.8M458.1,321.9v14.8M460.8,321.9v14.8M461.4,321.9v14.8M461.9,321.9v14.8M464.6,321.9v14.8M465.4,321.9v14.8M469.4,321.9v14.8M469.7,321.9v14.8M476.0,321.9v14.8M476.3,321.9v14.8M478.1,321.9v14.8M478.9,321.9v14.8M482.1,321.9v14.8M482.4,321.9v14.8M484.7,321.9v14.8M486.3,321.9v14.8M487.4,321.9v14.8M492.5,321.9v14.8M500.3,321.9v14.8M502.6,321.9v14.8M507.1,321.9v14.8M524.5,321.9v14.8M528.4,321.9v14.8M534.5,321.9v14.8M543.4,321.9v14.8M544.5,321.9v14.8M545.1,321.9v14.8" stroke="#383e66" stroke-width="1.15" stroke-opacity="0.48" fill="none"/>
<path d="M163.5,314.6C164.9,314.4 169.3,313.6 172.0,313.2C174.7,312.8 176.5,312.4 179.8,312.0C183.1,311.6 187.9,311.2 192.0,310.9C196.1,310.6 200.3,310.4 204.5,310.0C208.7,309.6 212.9,309.1 217.0,308.6C221.1,308.1 225.0,307.5 229.0,307.0C233.0,306.5 237.2,305.9 241.0,305.6C244.8,305.3 247.8,305.0 251.5,305.0C255.2,305.0 258.4,305.1 263.0,305.4C267.6,305.7 274.0,306.5 278.8,307.0C283.6,307.5 287.6,308.1 292.0,308.6C296.4,309.1 301.2,309.6 305.0,310.0C308.8,310.4 311.1,310.5 314.8,310.8C318.5,311.1 322.8,311.7 327.0,311.8C331.2,311.9 335.3,311.8 340.0,311.6C344.7,311.4 350.1,310.9 355.0,310.6C359.9,310.3 364.3,309.9 369.3,309.6C374.3,309.3 380.1,309.0 385.0,308.8C389.9,308.6 394.5,308.4 399.0,308.4C403.5,308.4 407.9,308.6 412.0,308.8C416.1,309.0 420.0,309.2 423.7,309.6C427.4,310.0 430.4,310.5 434.0,311.0C437.6,311.5 441.3,312.0 445.0,312.6C448.7,313.2 452.3,314.0 456.0,314.6C459.7,315.2 463.0,315.7 467.0,316.5C471.0,317.3 475.8,318.5 480.0,319.4C484.2,320.3 487.8,321.3 492.0,322.0C496.2,322.7 501.0,323.3 505.0,323.8C509.0,324.3 510.2,324.5 516.0,325.0C521.8,325.5 532.1,326.2 540.0,326.6C547.9,327.0 559.6,327.3 563.5,327.4L563.5,329.2L163.5,329.2Z" fill="#ea7c2f" fill-opacity="0.5"/>
<path d="M163.5,314.6C164.9,314.4 169.3,313.6 172.0,313.2C174.7,312.8 176.5,312.4 179.8,312.0C183.1,311.6 187.9,311.2 192.0,310.9C196.1,310.6 200.3,310.4 204.5,310.0C208.7,309.6 212.9,309.1 217.0,308.6C221.1,308.1 225.0,307.5 229.0,307.0C233.0,306.5 237.2,305.9 241.0,305.6C244.8,305.3 247.8,305.0 251.5,305.0C255.2,305.0 258.4,305.1 263.0,305.4C267.6,305.7 274.0,306.5 278.8,307.0C283.6,307.5 287.6,308.1 292.0,308.6C296.4,309.1 301.2,309.6 305.0,310.0C308.8,310.4 311.1,310.5 314.8,310.8C318.5,311.1 322.8,311.7 327.0,311.8C331.2,311.9 335.3,311.8 340.0,311.6C344.7,311.4 350.1,310.9 355.0,310.6C359.9,310.3 364.3,309.9 369.3,309.6C374.3,309.3 380.1,309.0 385.0,308.8C389.9,308.6 394.5,308.4 399.0,308.4C403.5,308.4 407.9,308.6 412.0,308.8C416.1,309.0 420.0,309.2 423.7,309.6C427.4,310.0 430.4,310.5 434.0,311.0C437.6,311.5 441.3,312.0 445.0,312.6C448.7,313.2 452.3,314.0 456.0,314.6C459.7,315.2 463.0,315.7 467.0,316.5C471.0,317.3 475.8,318.5 480.0,319.4C484.2,320.3 487.8,321.3 492.0,322.0C496.2,322.7 501.0,323.3 505.0,323.8C509.0,324.3 510.2,324.5 516.0,325.0C521.8,325.5 532.1,326.2 540.0,326.6C547.9,327.0 559.6,327.3 563.5,327.4" fill="none" stroke="#8a4a1c" stroke-width="0.8" clip-path="url(#cFk)"/>
<path d="M165.4,321.9v14.8M168.4,321.9v14.8M175.8,321.9v14.8M178.2,321.9v14.8M179.0,321.9v14.8M179.8,321.9v14.8M185.1,321.9v14.8M185.9,321.9v14.8M192.5,321.9v14.8M197.1,321.9v14.8M198.9,321.9v14.8M199.8,321.9v14.8M203.4,321.9v14.8M203.7,321.9v14.8M211.9,321.9v14.8M212.2,321.9v14.8M215.3,321.9v14.8M216.2,321.9v14.8M218.3,321.9v14.8M219.5,321.9v14.8M222.2,321.9v14.8M223.7,321.9v14.8M228.2,321.9v14.8M229.5,321.9v14.8M232.3,321.9v14.8M233.6,321.9v14.8M238.5,321.9v14.8M239.9,321.9v14.8M242.6,321.9v14.8M244.3,321.9v14.8M244.3,321.9v14.8M244.7,321.9v14.8M247.1,321.9v14.8M247.3,321.9v14.8M247.4,321.9v14.8M251.0,321.9v14.8M251.4,321.9v14.8M251.9,321.9v14.8M251.9,321.9v14.8M254.7,321.9v14.8M255.6,321.9v14.8M256.3,321.9v14.8M257.2,321.9v14.8M258.4,321.9v14.8M258.6,321.9v14.8M263.2,321.9v14.8M264.2,321.9v14.8M265.5,321.9v14.8M265.7,321.9v14.8M266.2,321.9v14.8M266.7,321.9v14.8M266.9,321.9v14.8M271.6,321.9v14.8M273.4,321.9v14.8M273.6,321.9v14.8M278.0,321.9v14.8M279.1,321.9v14.8M282.9,321.9v14.8M287.4,321.9v14.8M290.2,321.9v14.8M291.1,321.9v14.8M293.0,321.9v14.8M294.6,321.9v14.8M298.3,321.9v14.8M298.4,321.9v14.8M300.0,321.9v14.8M308.1,321.9v14.8M308.7,321.9v14.8M310.8,321.9v14.8M314.8,321.9v14.8M317.7,321.9v14.8M317.8,321.9v14.8M320.2,321.9v14.8M322.7,321.9v14.8M328.1,321.9v14.8M330.0,321.9v14.8M336.3,321.9v14.8M345.3,321.9v14.8M349.4,321.9v14.8M349.5,321.9v14.8M354.0,321.9v14.8M355.0,321.9v14.8M358.7,321.9v14.8M362.6,321.9v14.8M363.6,321.9v14.8M364.9,321.9v14.8M372.6,321.9v14.8M373.3,321.9v14.8M377.2,321.9v14.8M378.1,321.9v14.8M382.0,321.9v14.8M384.6,321.9v14.8M386.3,321.9v14.8M387.2,321.9v14.8M387.3,321.9v14.8M389.9,321.9v14.8M390.5,321.9v14.8M393.2,321.9v14.8M393.9,321.9v14.8M394.7,321.9v14.8M399.3,321.9v14.8M400.2,321.9v14.8M403.5,321.9v14.8M410.3,321.9v14.8M415.9,321.9v14.8M419.3,321.9v14.8M423.5,321.9v14.8M452.3,321.9v14.8M453.6,321.9v14.8M462.1,321.9v14.8M463.2,321.9v14.8M463.7,321.9v14.8M466.8,321.9v14.8M505.6,321.9v14.8M513.9,321.9v14.8M526.3,321.9v14.8M543.3,321.9v14.8M551.3,321.9v14.8" stroke="#db701c" stroke-width="1.15" stroke-opacity="0.58" fill="none"/>
<path d="M163.5,410.8C184.6,410.7 267.2,410.7 290.0,410.4C312.8,410.1 297.0,409.9 300.0,409.2C303.0,408.5 305.7,407.2 308.0,406.4C310.3,405.6 312.0,405.0 314.0,404.4C316.0,403.8 316.8,403.6 319.8,403.0C322.8,402.4 327.9,401.6 332.0,401.0C336.1,400.4 340.3,399.8 344.5,399.2C348.7,398.6 352.9,398.1 357.0,397.5C361.1,396.9 365.1,396.4 369.3,395.9C373.5,395.3 377.9,394.7 382.0,394.2C386.1,393.7 391.0,393.2 394.0,392.7C397.0,392.2 397.9,391.9 400.0,391.4C402.1,390.9 404.4,390.1 406.4,389.6C408.4,389.1 409.9,388.5 412.0,388.2C414.1,387.9 415.8,387.8 418.8,387.6C421.8,387.4 425.6,387.2 430.0,386.9C434.4,386.6 440.6,386.2 445.0,386.0C449.4,385.8 452.2,385.6 456.4,385.4C460.6,385.2 465.6,384.9 470.0,384.6C474.4,384.3 478.9,384.1 482.8,383.8C486.7,383.5 490.4,383.3 493.4,383.0C496.4,382.7 498.4,382.3 501.0,382.0C503.6,381.7 506.6,381.3 509.2,381.1C511.8,380.9 514.3,380.6 516.9,380.7C519.5,380.8 522.6,381.2 525.0,381.6C527.4,382.0 529.2,382.6 531.0,383.2C532.8,383.8 533.9,384.3 536.0,385.1C538.1,385.9 540.6,386.9 543.5,388.2C546.4,389.5 550.7,391.5 553.3,392.7C555.9,393.9 557.3,394.6 559.0,395.6C560.7,396.6 562.8,398.1 563.5,398.6L563.5,411.0L163.5,411.0Z" fill="#4d82c8" fill-opacity="0.45"/>
<path d="M163.5,410.8C184.6,410.7 267.2,410.7 290.0,410.4C312.8,410.1 297.0,409.9 300.0,409.2C303.0,408.5 305.7,407.2 308.0,406.4C310.3,405.6 312.0,405.0 314.0,404.4C316.0,403.8 316.8,403.6 319.8,403.0C322.8,402.4 327.9,401.6 332.0,401.0C336.1,400.4 340.3,399.8 344.5,399.2C348.7,398.6 352.9,398.1 357.0,397.5C361.1,396.9 365.1,396.4 369.3,395.9C373.5,395.3 377.9,394.7 382.0,394.2C386.1,393.7 391.0,393.2 394.0,392.7C397.0,392.2 397.9,391.9 400.0,391.4C402.1,390.9 404.4,390.1 406.4,389.6C408.4,389.1 409.9,388.5 412.0,388.2C414.1,387.9 415.8,387.8 418.8,387.6C421.8,387.4 425.6,387.2 430.0,386.9C434.4,386.6 440.6,386.2 445.0,386.0C449.4,385.8 452.2,385.6 456.4,385.4C460.6,385.2 465.6,384.9 470.0,384.6C474.4,384.3 478.9,384.1 482.8,383.8C486.7,383.5 490.4,383.3 493.4,383.0C496.4,382.7 498.4,382.3 501.0,382.0C503.6,381.7 506.6,381.3 509.2,381.1C511.8,380.9 514.3,380.6 516.9,380.7C519.5,380.8 522.6,381.2 525.0,381.6C527.4,382.0 529.2,382.6 531.0,383.2C532.8,383.8 533.9,384.3 536.0,385.1C538.1,385.9 540.6,386.9 543.5,388.2C546.4,389.5 550.7,391.5 553.3,392.7C555.9,393.9 557.3,394.6 559.0,395.6C560.7,396.6 562.8,398.1 563.5,398.6" fill="none" stroke="#3a4f70" stroke-width="0.8" clip-path="url(#cWk)"/>
<path d="M326.9,403.7v14.8M327.2,403.7v14.8M336.8,403.7v14.8M342.5,403.7v14.8M351.5,403.7v14.8M375.6,403.7v14.8M379.8,403.7v14.8M380.0,403.7v14.8M383.3,403.7v14.8M386.3,403.7v14.8M393.2,403.7v14.8M395.7,403.7v14.8M400.1,403.7v14.8M403.1,403.7v14.8M403.2,403.7v14.8M403.2,403.7v14.8M403.4,403.7v14.8M403.8,403.7v14.8M408.9,403.7v14.8M413.0,403.7v14.8M414.4,403.7v14.8M415.8,403.7v14.8M419.6,403.7v14.8M420.4,403.7v14.8M422.9,403.7v14.8M424.2,403.7v14.8M424.9,403.7v14.8M427.9,403.7v14.8M430.5,403.7v14.8M434.8,403.7v14.8M445.6,403.7v14.8M448.6,403.7v14.8M451.1,403.7v14.8M454.7,403.7v14.8M457.0,403.7v14.8M457.3,403.7v14.8M458.7,403.7v14.8M462.1,403.7v14.8M466.7,403.7v14.8M467.2,403.7v14.8M468.3,403.7v14.8M473.0,403.7v14.8M482.5,403.7v14.8M485.5,403.7v14.8M487.2,403.7v14.8M489.1,403.7v14.8M489.6,403.7v14.8M490.3,403.7v14.8M490.5,403.7v14.8M490.9,403.7v14.8M491.0,403.7v14.8M494.8,403.7v14.8M495.2,403.7v14.8M497.7,403.7v14.8M498.9,403.7v14.8M499.0,403.7v14.8M500.6,403.7v14.8M500.7,403.7v14.8M501.8,403.7v14.8M502.6,403.7v14.8M503.1,403.7v14.8M503.6,403.7v14.8M504.8,403.7v14.8M506.0,403.7v14.8M506.0,403.7v14.8M506.8,403.7v14.8M509.3,403.7v14.8M509.4,403.7v14.8M510.2,403.7v14.8M510.7,403.7v14.8M512.1,403.7v14.8M512.6,403.7v14.8M513.7,403.7v14.8M514.4,403.7v14.8M517.8,403.7v14.8M521.8,403.7v14.8M522.2,403.7v14.8M522.8,403.7v14.8M525.3,403.7v14.8M526.9,403.7v14.8M527.4,403.7v14.8M529.1,403.7v14.8M530.8,403.7v14.8M532.5,403.7v14.8M534.9,403.7v14.8M535.0,403.7v14.8M535.3,403.7v14.8M535.4,403.7v14.8M536.7,403.7v14.8M538.4,403.7v14.8M539.0,403.7v14.8M539.8,403.7v14.8M544.4,403.7v14.8M544.7,403.7v14.8M550.7,403.7v14.8M551.1,403.7v14.8M551.9,403.7v14.8M552.8,403.7v14.8M553.7,403.7v14.8M555.1,403.7v14.8M555.9,403.7v14.8M559.4,403.7v14.8" stroke="#3f6fc0" stroke-width="1.15" stroke-opacity="0.55" fill="none"/>
<path d="M163.5,410.8C174.6,410.8 217.0,410.7 230.0,410.6C243.0,410.5 236.6,410.5 241.6,410.2C246.6,409.9 253.8,409.5 260.0,409.0C266.2,408.5 273.5,407.7 278.8,407.0C284.1,406.3 287.6,405.6 292.0,404.8C296.4,404.0 300.4,403.1 305.0,402.0C309.6,400.9 315.3,399.5 319.8,398.3C324.3,397.1 327.9,396.1 332.0,394.8C336.1,393.6 340.3,392.0 344.5,390.8C348.7,389.6 352.9,388.5 357.0,387.6C361.1,386.7 365.1,386.0 369.3,385.4C373.5,384.8 377.9,384.5 382.0,384.2C386.1,383.9 390.0,383.6 394.0,383.4C398.0,383.2 401.9,383.0 406.0,382.8C410.1,382.6 414.8,382.4 418.8,382.2C422.8,382.0 425.6,382.0 430.0,381.7C434.4,381.4 440.8,380.8 445.0,380.4C449.2,380.0 452.2,379.6 455.0,379.4C457.8,379.2 458.9,379.0 461.7,379.0C464.5,379.0 468.5,379.3 472.0,379.6C475.5,379.9 479.2,380.3 482.8,380.9C486.4,381.5 490.4,382.3 493.4,383.0C496.4,383.7 498.4,384.4 501.0,385.2C503.6,386.0 506.4,386.8 509.2,387.8C512.0,388.8 514.9,389.8 518.0,391.0C521.1,392.2 524.7,393.8 527.7,394.9C530.7,396.0 533.4,396.9 536.0,397.8C538.6,398.7 540.7,399.3 543.5,400.2C546.3,401.1 549.7,402.2 553.0,403.2C556.3,404.2 561.8,405.5 563.5,406.0L563.5,411.0L163.5,411.0Z" fill="#3c4a76" fill-opacity="0.46"/>
<path d="M163.5,410.8C174.6,410.8 217.0,410.7 230.0,410.6C243.0,410.5 236.6,410.5 241.6,410.2C246.6,409.9 253.8,409.5 260.0,409.0C266.2,408.5 273.5,407.7 278.8,407.0C284.1,406.3 287.6,405.6 292.0,404.8C296.4,404.0 300.4,403.1 305.0,402.0C309.6,400.9 315.3,399.5 319.8,398.3C324.3,397.1 327.9,396.1 332.0,394.8C336.1,393.6 340.3,392.0 344.5,390.8C348.7,389.6 352.9,388.5 357.0,387.6C361.1,386.7 365.1,386.0 369.3,385.4C373.5,384.8 377.9,384.5 382.0,384.2C386.1,383.9 390.0,383.6 394.0,383.4C398.0,383.2 401.9,383.0 406.0,382.8C410.1,382.6 414.8,382.4 418.8,382.2C422.8,382.0 425.6,382.0 430.0,381.7C434.4,381.4 440.8,380.8 445.0,380.4C449.2,380.0 452.2,379.6 455.0,379.4C457.8,379.2 458.9,379.0 461.7,379.0C464.5,379.0 468.5,379.3 472.0,379.6C475.5,379.9 479.2,380.3 482.8,380.9C486.4,381.5 490.4,382.3 493.4,383.0C496.4,383.7 498.4,384.4 501.0,385.2C503.6,386.0 506.4,386.8 509.2,387.8C512.0,388.8 514.9,389.8 518.0,391.0C521.1,392.2 524.7,393.8 527.7,394.9C530.7,396.0 533.4,396.9 536.0,397.8C538.6,398.7 540.7,399.3 543.5,400.2C546.3,401.1 549.7,402.2 553.0,403.2C556.3,404.2 561.8,405.5 563.5,406.0" fill="none" stroke="#1f2744" stroke-width="0.8" clip-path="url(#cWk)"/>
<path d="M254.9,403.7v14.8M271.5,403.7v14.8M276.5,403.7v14.8M280.7,403.7v14.8M289.7,403.7v14.8M290.1,403.7v14.8M301.8,403.7v14.8M302.6,403.7v14.8M306.2,403.7v14.8M306.8,403.7v14.8M308.3,403.7v14.8M308.6,403.7v14.8M308.9,403.7v14.8M316.6,403.7v14.8M317.8,403.7v14.8M320.7,403.7v14.8M324.2,403.7v14.8M327.2,403.7v14.8M327.3,403.7v14.8M329.2,403.7v14.8M333.3,403.7v14.8M334.8,403.7v14.8M339.2,403.7v14.8M340.0,403.7v14.8M344.4,403.7v14.8M346.0,403.7v14.8M346.9,403.7v14.8M346.9,403.7v14.8M347.0,403.7v14.8M348.9,403.7v14.8M349.3,403.7v14.8M350.8,403.7v14.8M352.9,403.7v14.8M354.2,403.7v14.8M354.6,403.7v14.8M355.5,403.7v14.8M356.5,403.7v14.8M358.3,403.7v14.8M358.9,403.7v14.8M359.9,403.7v14.8M361.3,403.7v14.8M361.3,403.7v14.8M361.9,403.7v14.8M364.2,403.7v14.8M365.0,403.7v14.8M372.2,403.7v14.8M373.8,403.7v14.8M375.5,403.7v14.8M376.1,403.7v14.8M376.2,403.7v14.8M376.6,403.7v14.8M381.1,403.7v14.8M382.6,403.7v14.8M383.4,403.7v14.8M384.7,403.7v14.8M386.1,403.7v14.8M387.2,403.7v14.8M387.3,403.7v14.8M387.4,403.7v14.8M387.6,403.7v14.8M389.4,403.7v14.8M391.7,403.7v14.8M393.6,403.7v14.8M395.7,403.7v14.8M396.5,403.7v14.8M398.1,403.7v14.8M398.6,403.7v14.8M398.8,403.7v14.8M399.0,403.7v14.8M400.2,403.7v14.8M400.7,403.7v14.8M402.1,403.7v14.8M403.0,403.7v14.8M403.4,403.7v14.8M407.7,403.7v14.8M407.9,403.7v14.8M408.6,403.7v14.8M410.5,403.7v14.8M413.7,403.7v14.8M414.6,403.7v14.8M414.9,403.7v14.8M415.0,403.7v14.8M417.8,403.7v14.8M418.8,403.7v14.8M419.0,403.7v14.8M419.3,403.7v14.8M419.4,403.7v14.8M419.5,403.7v14.8M420.5,403.7v14.8M422.4,403.7v14.8M422.5,403.7v14.8M424.2,403.7v14.8M426.8,403.7v14.8M428.2,403.7v14.8M430.1,403.7v14.8M430.6,403.7v14.8M432.3,403.7v14.8M433.3,403.7v14.8M433.5,403.7v14.8M436.8,403.7v14.8M438.8,403.7v14.8M440.1,403.7v14.8M440.5,403.7v14.8M441.2,403.7v14.8M441.5,403.7v14.8M441.6,403.7v14.8M441.6,403.7v14.8M443.4,403.7v14.8M443.5,403.7v14.8M443.6,403.7v14.8M443.7,403.7v14.8M444.8,403.7v14.8M445.1,403.7v14.8M445.5,403.7v14.8M446.2,403.7v14.8M446.7,403.7v14.8M447.1,403.7v14.8M447.2,403.7v14.8M447.5,403.7v14.8M449.6,403.7v14.8M452.5,403.7v14.8M452.6,403.7v14.8M454.9,403.7v14.8M454.9,403.7v14.8M456.4,403.7v14.8M457.7,403.7v14.8M458.3,403.7v14.8M458.4,403.7v14.8M459.3,403.7v14.8M462.7,403.7v14.8M462.8,403.7v14.8M463.8,403.7v14.8M464.1,403.7v14.8M466.7,403.7v14.8M467.7,403.7v14.8M468.9,403.7v14.8M469.7,403.7v14.8M470.2,403.7v14.8M471.5,403.7v14.8M472.9,403.7v14.8M473.5,403.7v14.8M474.1,403.7v14.8M478.2,403.7v14.8M479.2,403.7v14.8M480.0,403.7v14.8M482.1,403.7v14.8M482.8,403.7v14.8M482.9,403.7v14.8M484.4,403.7v14.8M484.8,403.7v14.8M484.9,403.7v14.8M487.4,403.7v14.8M490.1,403.7v14.8M490.6,403.7v14.8M491.6,403.7v14.8M492.5,403.7v14.8M493.8,403.7v14.8M494.3,403.7v14.8M495.6,403.7v14.8M496.0,403.7v14.8M496.7,403.7v14.8M496.8,403.7v14.8M497.1,403.7v14.8M497.1,403.7v14.8M502.9,403.7v14.8M504.1,403.7v14.8M504.8,403.7v14.8M506.6,403.7v14.8M506.7,403.7v14.8M507.4,403.7v14.8M507.5,403.7v14.8M510.0,403.7v14.8M510.1,403.7v14.8M512.8,403.7v14.8M517.4,403.7v14.8M522.3,403.7v14.8M522.6,403.7v14.8M525.8,403.7v14.8M529.2,403.7v14.8M530.9,403.7v14.8M535.0,403.7v14.8M540.5,403.7v14.8M543.5,403.7v14.8M551.0,403.7v14.8M552.7,403.7v14.8" stroke="#383e66" stroke-width="1.15" stroke-opacity="0.55" fill="none"/>
<path d="M163.5,407.4C166.2,407.1 173.2,406.3 180.0,405.4C186.8,404.5 198.3,402.9 204.5,402.0C210.7,401.1 212.9,400.8 217.0,400.2C221.1,399.6 225.0,398.9 229.0,398.3C233.0,397.7 236.8,397.3 241.0,396.7C245.2,396.1 249.8,395.5 254.0,394.6C258.2,393.7 261.9,392.5 266.0,391.2C270.1,389.9 274.5,388.3 278.8,387.0C283.1,385.7 287.6,384.2 292.0,383.2C296.4,382.2 301.7,381.5 305.0,381.0C308.3,380.5 309.5,380.5 312.0,380.4C314.5,380.3 316.5,380.2 319.8,380.2C323.1,380.2 327.9,380.4 332.0,380.6C336.1,380.8 340.3,381.0 344.5,381.4C348.7,381.8 352.9,382.2 357.0,382.8C361.1,383.4 365.1,383.9 369.3,384.7C373.5,385.5 377.9,386.6 382.0,387.6C386.1,388.6 390.0,389.8 394.0,390.8C398.0,391.8 401.9,392.6 406.0,393.4C410.1,394.2 414.8,395.1 418.8,395.8C422.8,396.5 425.6,397.0 430.0,397.6C434.4,398.2 439.7,399.0 445.0,399.4C450.3,399.8 455.9,399.8 461.7,400.0C467.5,400.2 474.7,400.3 480.0,400.4C485.3,400.5 488.4,400.4 493.4,400.6C498.4,400.8 504.3,401.1 510.0,401.4C515.7,401.7 521.9,401.9 527.7,402.3C533.5,402.7 539.0,403.2 545.0,403.6C551.0,404.1 560.4,404.8 563.5,405.0L563.5,411.0L163.5,411.0Z" fill="#ea7c2f" fill-opacity="0.5"/>
<path d="M163.5,407.4C166.2,407.1 173.2,406.3 180.0,405.4C186.8,404.5 198.3,402.9 204.5,402.0C210.7,401.1 212.9,400.8 217.0,400.2C221.1,399.6 225.0,398.9 229.0,398.3C233.0,397.7 236.8,397.3 241.0,396.7C245.2,396.1 249.8,395.5 254.0,394.6C258.2,393.7 261.9,392.5 266.0,391.2C270.1,389.9 274.5,388.3 278.8,387.0C283.1,385.7 287.6,384.2 292.0,383.2C296.4,382.2 301.7,381.5 305.0,381.0C308.3,380.5 309.5,380.5 312.0,380.4C314.5,380.3 316.5,380.2 319.8,380.2C323.1,380.2 327.9,380.4 332.0,380.6C336.1,380.8 340.3,381.0 344.5,381.4C348.7,381.8 352.9,382.2 357.0,382.8C361.1,383.4 365.1,383.9 369.3,384.7C373.5,385.5 377.9,386.6 382.0,387.6C386.1,388.6 390.0,389.8 394.0,390.8C398.0,391.8 401.9,392.6 406.0,393.4C410.1,394.2 414.8,395.1 418.8,395.8C422.8,396.5 425.6,397.0 430.0,397.6C434.4,398.2 439.7,399.0 445.0,399.4C450.3,399.8 455.9,399.8 461.7,400.0C467.5,400.2 474.7,400.3 480.0,400.4C485.3,400.5 488.4,400.4 493.4,400.6C498.4,400.8 504.3,401.1 510.0,401.4C515.7,401.7 521.9,401.9 527.7,402.3C533.5,402.7 539.0,403.2 545.0,403.6C551.0,404.1 560.4,404.8 563.5,405.0" fill="none" stroke="#8a4a1c" stroke-width="0.8" clip-path="url(#cWk)"/>
<path d="M172.3,403.7v14.8M195.7,403.7v14.8M203.3,403.7v14.8M215.0,403.7v14.8M216.6,403.7v14.8M219.1,403.7v14.8M220.1,403.7v14.8M222.4,403.7v14.8M224.1,403.7v14.8M226.8,403.7v14.8M229.2,403.7v14.8M231.8,403.7v14.8M234.8,403.7v14.8M239.5,403.7v14.8M243.9,403.7v14.8M247.2,403.7v14.8M247.5,403.7v14.8M247.7,403.7v14.8M247.9,403.7v14.8M249.1,403.7v14.8M253.0,403.7v14.8M255.7,403.7v14.8M256.9,403.7v14.8M259.1,403.7v14.8M262.0,403.7v14.8M263.1,403.7v14.8M264.9,403.7v14.8M265.0,403.7v14.8M265.5,403.7v14.8M266.8,403.7v14.8M271.8,403.7v14.8M274.1,403.7v14.8M274.4,403.7v14.8M275.4,403.7v14.8M275.5,403.7v14.8M278.9,403.7v14.8M279.8,403.7v14.8M280.4,403.7v14.8M282.2,403.7v14.8M283.7,403.7v14.8M285.9,403.7v14.8M286.2,403.7v14.8M287.6,403.7v14.8M287.7,403.7v14.8M288.1,403.7v14.8M289.0,403.7v14.8M290.6,403.7v14.8M290.6,403.7v14.8M291.7,403.7v14.8M291.9,403.7v14.8M293.9,403.7v14.8M293.9,403.7v14.8M295.1,403.7v14.8M295.8,403.7v14.8M301.9,403.7v14.8M303.7,403.7v14.8M304.3,403.7v14.8M304.8,403.7v14.8M305.7,403.7v14.8M305.9,403.7v14.8M307.0,403.7v14.8M307.7,403.7v14.8M308.4,403.7v14.8M309.1,403.7v14.8M310.9,403.7v14.8M312.0,403.7v14.8M312.1,403.7v14.8M312.3,403.7v14.8M314.9,403.7v14.8M315.7,403.7v14.8M317.3,403.7v14.8M319.3,403.7v14.8M320.5,403.7v14.8M322.8,403.7v14.8M323.6,403.7v14.8M324.1,403.7v14.8M327.2,403.7v14.8M327.8,403.7v14.8M329.2,403.7v14.8M332.1,403.7v14.8M333.9,403.7v14.8M334.1,403.7v14.8M335.3,403.7v14.8M336.0,403.7v14.8M336.3,403.7v14.8M336.8,403.7v14.8M338.2,403.7v14.8M338.3,403.7v14.8M340.2,403.7v14.8M341.8,403.7v14.8M341.9,403.7v14.8M343.4,403.7v14.8M344.1,403.7v14.8M345.7,403.7v14.8M345.8,403.7v14.8M347.2,403.7v14.8M348.2,403.7v14.8M348.5,403.7v14.8M349.1,403.7v14.8M353.3,403.7v14.8M357.2,403.7v14.8M357.6,403.7v14.8M357.8,403.7v14.8M360.6,403.7v14.8M360.7,403.7v14.8M361.4,403.7v14.8M363.4,403.7v14.8M363.5,403.7v14.8M363.6,403.7v14.8M364.2,403.7v14.8M365.8,403.7v14.8M366.4,403.7v14.8M366.8,403.7v14.8M372.3,403.7v14.8M372.6,403.7v14.8M379.7,403.7v14.8M380.8,403.7v14.8M381.2,403.7v14.8M383.1,403.7v14.8M383.5,403.7v14.8M384.0,403.7v14.8M384.8,403.7v14.8M386.9,403.7v14.8M387.8,403.7v14.8M391.4,403.7v14.8M394.2,403.7v14.8M395.9,403.7v14.8M397.0,403.7v14.8M399.3,403.7v14.8M401.4,403.7v14.8M408.2,403.7v14.8M408.6,403.7v14.8M411.9,403.7v14.8M422.9,403.7v14.8M423.0,403.7v14.8M423.3,403.7v14.8M424.5,403.7v14.8M427.7,403.7v14.8M429.1,403.7v14.8M430.5,403.7v14.8M430.6,403.7v14.8M431.2,403.7v14.8M434.1,403.7v14.8M435.9,403.7v14.8M439.6,403.7v14.8M442.2,403.7v14.8M443.6,403.7v14.8M446.9,403.7v14.8M447.5,403.7v14.8M448.1,403.7v14.8M451.6,403.7v14.8M470.6,403.7v14.8M500.3,403.7v14.8M506.9,403.7v14.8M512.5,403.7v14.8M514.7,403.7v14.8M516.5,403.7v14.8M521.2,403.7v14.8M529.4,403.7v14.8M538.2,403.7v14.8M544.2,403.7v14.8M551.1,403.7v14.8M552.1,403.7v14.8M552.1,403.7v14.8M557.3,403.7v14.8" stroke="#db701c" stroke-width="1.15" stroke-opacity="0.66" fill="none"/>
<g stroke="#1a1a1a" stroke-width="2" fill="none">
<path d="M143.3,6V411.8"/>
<path d="M142.3,410.9H583"/>
</g>
<g stroke="#1a1a1a" stroke-width="1.5" fill="none">
<path d="M138.5,83.6h4.8M138.5,165.4h4.8M138.5,247.3h4.8M138.5,329.2h4.8M138.5,411h4.8"/>
<path d="M163,411v4.5M263,411v4.5M363,411v4.5M463,411v4.5M563,411v4.5"/>
</g>
<g class="tk" text-anchor="end">
<text x="135" y="88.6">Sprint</text>
<text x="135" y="170.4">Run</text>
<text x="135" y="252.3">Jog</text>
<text x="135" y="334.2">Fast Walk</text>
<text x="135" y="416">Walk</text>
</g>
<g class="tk" text-anchor="middle">
<text x="163.3" y="430.2">0.00</text>
<text x="263.3" y="430.2">0.25</text>
<text x="363.3" y="430.2">0.50</text>
<text x="463.3" y="430.2">0.75</text>
<text x="563.8" y="430.2">1.00</text>
</g>
<text class="ti" text-anchor="middle" x="363.3" y="448">SNW</text>
<text class="ti" text-anchor="middle" transform="translate(64.6,208.3) rotate(-90)">Speed</text>
<text class="bd" x="105" y="467.8">Spring-Like</text>
<text class="bd" x="525.2" y="456.6">Brake</text>
<text class="bd" x="508.4" y="479.8">Motor-Like</text>
<g stroke="#505050" stroke-width="0.9">
<rect x="257.5" y="479.5" width="27" height="27" fill="#4d82c8" fill-opacity="0.39"/>
<rect x="326" y="479.5" width="27" height="27" fill="#3c4a76" fill-opacity="0.46"/>
<rect x="406" y="479.5" width="27" height="27" fill="#ea7c2f" fill-opacity="0.5"/>
</g>
<g stroke-width="1">
<path d="M271,486v14.5" stroke="#5a7098"/>
<path d="M339.5,486v14.5" stroke="#4a4f6c"/>
<path d="M419.5,486v14.5" stroke="#a8643a"/>
</g>
<g class="lg">
<text x="294.3" y="498.2">Hip</text>
<text x="362.6" y="498.2">Knee</text>
<text x="442.2" y="498.2">Ankle</text>
</g>
</svg>
</body></html>
